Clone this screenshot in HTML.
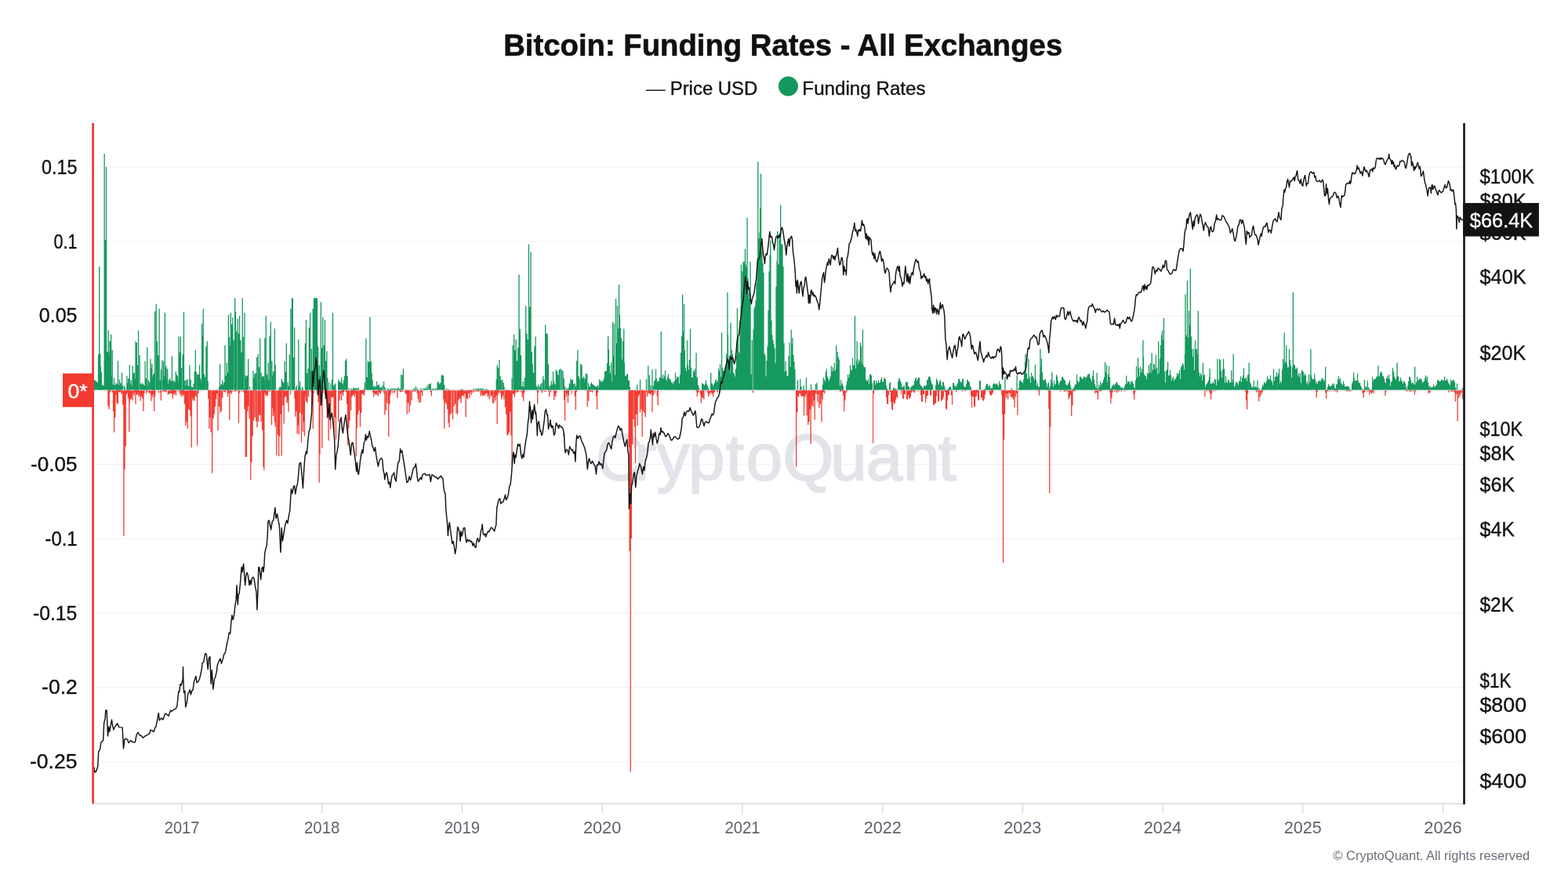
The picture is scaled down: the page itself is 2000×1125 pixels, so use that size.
<!DOCTYPE html>
<html lang="en"><head><meta charset="utf-8"><title>Bitcoin: Funding Rates - All Exchanges</title>
<style>html,body{margin:0;padding:0;background:#fff;}body{width:2000px;height:1125px;overflow:hidden;}svg{display:block;}</style></head>
<body>
<svg width="2000" height="1125" viewBox="0 0 2000 1125" font-family="'Liberation Sans', Arial, Helvetica, sans-serif">
<rect width="2000" height="1125" fill="#ffffff"/>
<g stroke="#f4f4f5" stroke-width="1.5">
<line x1="118.6" x2="1867.5" y1="213.1" y2="213.1"/>
<line x1="118.6" x2="1867.5" y1="307.9" y2="307.9"/>
<line x1="118.6" x2="1867.5" y1="402.7" y2="402.7"/>
<line x1="118.6" x2="1867.5" y1="592.3" y2="592.3"/>
<line x1="118.6" x2="1867.5" y1="687.1" y2="687.1"/>
<line x1="118.6" x2="1867.5" y1="781.9" y2="781.9"/>
<line x1="118.6" x2="1867.5" y1="876.7" y2="876.7"/>
<line x1="118.6" x2="1867.5" y1="971.5" y2="971.5"/>
</g>
<text x="760.0 809.3 837.7 878.1 925.8 951.8 998.6 1059.3 1104.8 1152.3 1196.4" y="611.6" font-size="83.5" fill="#e3e3ea" stroke="#e3e3ea" stroke-width="1.9" stroke-linejoin="round">CryptoQuant</text>
<path d="M137.3 497.5v20.5h1.30v-20.5zM138.6 497.5v24.5h1.30v-24.5zM139.8 497.5v3.3h1.10v-3.3zM143.0 497.5v2.9h1.10v-2.9zM141.6 497.5v1.8h1.00v-1.8zM143.9 497.5v26.9h1.30v-26.9zM144.9 497.5v54.1h1.30v-54.1zM146.2 497.5v34.9h1.30v-34.9zM147.0 497.5v6.1h1.60v-6.1zM148.4 497.5v16.5h1.30v-16.5zM149.7 497.5v18.1h1.30v-18.1zM150.5 497.5v2.1h1.60v-2.1zM151.5 497.5v3.1h1.60v-3.1zM152.5 497.5v2.2h1.60v-2.2zM154.2 497.5v5.3h1.30v-5.3zM155.0 497.5v3.7h1.60v-3.7zM156.1 497.5v18.9h1.30v-18.9zM157.3 497.5v186.1h1.30v-186.1zM158.3 497.5v101.3h1.30v-101.3zM159.6 497.5v71.7h1.30v-71.7zM160.9 497.5v5.3h1.30v-5.3zM161.7 497.5v3.6h1.60v-3.6zM162.8 497.5v10.1h1.30v-10.1zM164.1 497.5v53.3h1.30v-53.3zM164.7 497.5v15.7h1.30v-15.7zM165.6 497.5v12.0h1.60v-12.0zM166.6 497.5v11.1h1.60v-11.1zM167.6 497.5v5.7h1.60v-5.7zM168.5 497.5v13.3h1.30v-13.3zM169.4 497.5v3.6h1.60v-3.6zM170.5 497.5v6.9h1.30v-6.9zM171.3 497.5v3.1h1.60v-3.1zM172.4 497.5v18.1h1.30v-18.1zM173.2 497.5v6.1h1.60v-6.1zM174.2 497.5v5.6h1.60v-5.6zM175.2 497.5v3.3h1.60v-3.3zM176.2 497.5v8.5h1.30v-8.5zM177.1 497.5v6.3h1.60v-6.3zM178.5 497.5v14.1h1.30v-14.1zM179.3 497.5v7.4h1.60v-7.4zM180.3 497.5v8.6h1.60v-8.6zM181.3 497.5v11.3h1.60v-11.3zM182.3 497.5v26.9h1.30v-26.9zM183.5 497.5v4.6h1.10v-4.6zM191.3 497.5v3.9h1.10v-3.9zM186.3 497.5v5.0h1.00v-5.0zM187.3 497.5v3.0h1.00v-3.0zM189.3 497.5v3.3h1.00v-3.3zM190.3 497.5v3.9h1.00v-3.9zM192.2 497.5v14.1h1.30v-14.1zM193.1 497.5v6.3h1.60v-6.3zM194.2 497.5v9.3h1.30v-9.3zM195.0 497.5v4.9h1.60v-4.9zM196.1 497.5v26.9h1.30v-26.9zM197.2 497.5v8.1h1.10v-8.1zM203.8 497.5v3.3h1.10v-3.3zM202.0 497.5v3.9h1.00v-3.9zM204.7 497.5v13.3h1.30v-13.3zM206.7 497.5v2.2h1.00v-2.2zM208.7 497.5v2.3h1.00v-2.3zM209.7 497.5v1.7h1.00v-1.7zM210.7 497.5v2.9h1.00v-2.9zM211.7 497.5v2.0h1.00v-2.0zM213.7 497.5v6.1h1.30v-6.1zM214.5 497.5v4.5h1.60v-4.5zM215.6 497.5v5.3h1.30v-5.3zM216.4 497.5v3.2h1.60v-3.2zM217.4 497.5v4.5h1.60v-4.5zM218.4 497.5v4.4h1.60v-4.4zM219.8 497.5v10.9h1.30v-10.9zM220.6 497.5v4.0h1.60v-4.0zM221.6 497.5v5.9h1.60v-5.9zM222.6 497.5v3.0h1.60v-3.0zM223.8 497.5v6.9h1.30v-6.9zM224.9 497.5v1.1h1.10v-1.1zM228.1 497.5v1.4h1.10v-1.4zM226.7 497.5v1.5h1.00v-1.5zM229.0 497.5v5.3h1.30v-5.3zM230.6 497.5v8.5h1.30v-8.5zM231.5 497.5v4.8h1.60v-4.8zM232.5 497.5v7.6h1.60v-7.6zM233.5 497.5v5.5h1.60v-5.5zM234.9 497.5v18.1h1.30v-18.1zM236.2 497.5v45.3h1.30v-45.3zM237.3 497.5v40.5h1.30v-40.5zM238.6 497.5v49.3h1.30v-49.3zM239.8 497.5v24.5h1.30v-24.5zM241.3 497.5v26.1h1.30v-26.1zM242.5 497.5v33.3h1.30v-33.3zM243.6 497.5v73.3h1.30v-73.3zM244.4 497.5v9.8h1.60v-9.8zM245.3 497.5v13.3h1.30v-13.3zM246.2 497.5v11.5h1.60v-11.5zM247.3 497.5v14.1h1.30v-14.1zM248.1 497.5v7.2h1.60v-7.2zM249.3 497.5v8.5h1.30v-8.5zM250.9 497.5v70.9h1.30v-70.9zM252.1 497.5v4.5h1.30v-4.5zM265.2 497.5v11.2h1.10v-11.2zM266.2 497.5v49.3h1.30v-49.3zM267.0 497.5v35.1h1.60v-35.1zM268.4 497.5v54.1h1.30v-54.1zM270.0 497.5v106.1h1.30v-106.1zM271.3 497.5v36.5h1.30v-36.5zM272.6 497.5v30.9h1.30v-30.9zM273.8 497.5v21.3h1.30v-21.3zM275.1 497.5v11.7h1.30v-11.7zM276.0 497.5v4.5h1.60v-4.5zM277.4 497.5v51.7h1.30v-51.7zM279.0 497.5v21.3h1.30v-21.3zM280.2 497.5v29.3h1.30v-29.3zM281.8 497.5v26.9h1.30v-26.9zM283.1 497.5v10.1h1.30v-10.1zM284.3 497.5v1.4h1.10v-1.4zM288.9 497.5v0.8h1.10v-0.8zM285.1 497.5v1.9h1.00v-1.9zM286.1 497.5v2.4h1.00v-2.4zM287.1 497.5v3.6h1.00v-3.6zM289.8 497.5v8.5h1.30v-8.5zM290.7 497.5v4.2h1.60v-4.2zM292.2 497.5v38.1h1.30v-38.1zM293.1 497.5v2.9h1.60v-2.9zM294.6 497.5v5.3h1.30v-5.3zM295.8 497.5v2.1h1.10v-2.1zM298.6 497.5v1.7h1.00v-1.7zM299.6 497.5v1.9h1.00v-1.9zM301.6 497.5v1.5h1.00v-1.5zM303.8 497.5v42.1h1.30v-42.1zM304.9 497.5v3.7h1.30v-3.7zM310.3 497.5v3.3h1.10v-3.3zM307.8 497.5v2.2h1.00v-2.2zM311.3 497.5v24.5h1.30v-24.5zM312.6 497.5v85.3h1.30v-85.3zM313.8 497.5v85.3h1.30v-85.3zM314.7 497.5v27.2h1.60v-27.2zM315.7 497.5v20.4h1.60v-20.4zM317.4 497.5v36.5h1.30v-36.5zM319.0 497.5v114.4h1.30v-114.4zM320.2 497.5v91.7h1.30v-91.7zM321.5 497.5v58.9h1.30v-58.9zM323.0 497.5v38.9h1.30v-38.9zM324.6 497.5v34.9h1.30v-34.9zM326.2 497.5v39.7h1.30v-39.7zM327.3 497.5v47.7h1.30v-47.7zM328.9 497.5v40.5h1.30v-40.5zM329.7 497.5v32.0h1.60v-32.0zM330.7 497.5v32.1h1.60v-32.1zM332.4 497.5v40.5h1.30v-40.5zM334.0 497.5v50.9h1.30v-50.9zM335.3 497.5v98.1h1.30v-98.1zM336.2 497.5v102.1h1.30v-102.1zM337.1 497.5v3.7h1.60v-3.7zM338.1 497.5v7.0h1.60v-7.0zM339.1 497.5v6.2h1.60v-6.2zM340.6 497.5v7.7h1.30v-7.7zM342.5 497.5v2.6h1.00v-2.6zM343.5 497.5v1.6h1.00v-1.6zM345.8 497.5v44.5h1.30v-44.5zM346.7 497.5v22.7h1.60v-22.7zM347.7 497.5v33.1h1.60v-33.1zM348.7 497.5v26.9h1.60v-26.9zM349.7 497.5v40.6h1.60v-40.6zM350.6 497.5v46.9h1.30v-46.9zM352.2 497.5v82.9h1.30v-82.9zM353.8 497.5v57.3h1.30v-57.3zM355.0 497.5v84.5h1.30v-84.5zM356.1 497.5v58.9h1.30v-58.9zM357.4 497.5v30.9h1.30v-30.9zM358.6 497.5v83.7h1.30v-83.7zM360.2 497.5v19.7h1.30v-19.7zM361.5 497.5v42.9h1.30v-42.9zM362.4 497.5v9.2h1.60v-9.2zM363.4 497.5v7.9h1.60v-7.9zM364.4 497.5v7.7h1.60v-7.7zM365.4 497.5v16.5h1.30v-16.5zM366.2 497.5v14.2h1.60v-14.2zM367.3 497.5v27.7h1.30v-27.7zM375.3 497.5v11.0h1.10v-11.0zM370.2 497.5v5.9h1.00v-5.9zM376.2 497.5v34.1h1.30v-34.1zM377.1 497.5v27.3h1.60v-27.3zM378.5 497.5v55.7h1.30v-55.7zM379.3 497.5v44.9h1.60v-44.9zM380.6 497.5v56.5h1.30v-56.5zM382.0 497.5v29.3h1.30v-29.3zM383.8 497.5v66.9h1.30v-66.9zM384.6 497.5v30.8h1.60v-30.8zM385.8 497.5v53.3h1.30v-53.3zM386.7 497.5v40.7h1.60v-40.7zM387.8 497.5v58.9h1.30v-58.9zM388.6 497.5v7.0h1.60v-7.0zM389.6 497.5v14.3h1.60v-14.3zM391.3 497.5v16.5h1.30v-16.5zM392.9 497.5v8.5h1.30v-8.5zM397.7 497.5v19.0h1.10v-19.0zM396.8 497.5v2.8h1.00v-2.8zM398.6 497.5v49.3h1.30v-49.3zM399.8 497.5v4.2h1.10v-4.2zM403.6 497.5v4.8h1.00v-4.8zM405.4 497.5v14.9h1.30v-14.9zM406.5 497.5v118.1h1.30v-118.1zM407.3 497.5v82.1h1.30v-82.1zM408.6 497.5v19.7h1.30v-19.7zM410.2 497.5v74.1h1.30v-74.1zM415.6 497.5v6.2h1.10v-6.2zM412.1 497.5v3.5h1.00v-3.5zM414.1 497.5v5.0h1.00v-5.0zM416.6 497.5v35.7h1.30v-35.7zM417.4 497.5v31.0h1.60v-31.0zM418.5 497.5v64.5h1.30v-64.5zM419.3 497.5v30.6h1.60v-30.6zM421.0 497.5v50.1h1.30v-50.1zM421.9 497.5v8.7h1.60v-8.7zM423.0 497.5v10.1h1.30v-10.1zM423.8 497.5v8.8h1.60v-8.8zM425.4 497.5v53.3h1.30v-53.3zM426.2 497.5v34.8h1.60v-34.8zM427.8 497.5v62.9h1.30v-62.9zM431.0 497.5v40.5h1.30v-40.5zM432.6 497.5v13.3h1.30v-13.3zM433.4 497.5v4.8h1.60v-4.8zM435.0 497.5v13.3h1.30v-13.3zM435.8 497.5v3.1h1.60v-3.1zM437.0 497.5v6.9h1.30v-6.9zM438.2 497.5v2.6h1.10v-2.6zM442.0 497.5v18.1h1.10v-18.1zM441.0 497.5v2.5h1.00v-2.5zM443.0 497.5v70.9h1.30v-70.9zM444.1 497.5v48.5h1.30v-48.5zM445.4 497.5v38.9h1.30v-38.9zM447.0 497.5v26.1h1.30v-26.1zM448.2 497.5v8.5h1.30v-8.5zM449.1 497.5v6.8h1.60v-6.8zM450.1 497.5v5.7h1.60v-5.7zM451.8 497.5v8.5h1.30v-8.5zM452.6 497.5v4.3h1.60v-4.3zM453.7 497.5v84.5h1.30v-84.5zM454.6 497.5v48.5h1.30v-48.5zM455.9 497.5v30.9h1.30v-30.9zM457.4 497.5v26.1h1.30v-26.1zM458.8 497.5v46.9h1.30v-46.9zM460.1 497.5v29.3h1.30v-29.3zM460.9 497.5v4.4h1.60v-4.4zM461.9 497.5v5.4h1.60v-5.4zM462.9 497.5v4.1h1.60v-4.1zM463.8 497.5v6.9h1.30v-6.9zM464.9 497.5v1.8h1.10v-1.8zM475.1 497.5v2.9h1.10v-2.9zM476.1 497.5v8.5h1.30v-8.5zM476.9 497.5v4.0h1.60v-4.0zM477.9 497.5v5.4h1.60v-5.4zM478.9 497.5v5.2h1.60v-5.2zM480.2 497.5v6.1h1.30v-6.1zM481.8 497.5v7.7h1.30v-7.7zM482.7 497.5v2.2h1.60v-2.2zM483.7 497.5v4.0h1.60v-4.0zM484.7 497.5v4.5h1.30v-4.5zM489.2 497.5v4.0h1.10v-4.0zM486.7 497.5v1.6h1.00v-1.6zM487.7 497.5v1.6h1.00v-1.6zM490.2 497.5v31.7h1.30v-31.7zM491.8 497.5v26.1h1.30v-26.1zM493.4 497.5v16.5h1.30v-16.5zM495.0 497.5v59.7h1.30v-59.7zM496.2 497.5v18.1h1.30v-18.1zM497.4 497.5v6.7h1.10v-6.7zM498.2 497.5v3.4h1.00v-3.4zM500.2 497.5v3.9h1.00v-3.9zM502.2 497.5v4.1h1.00v-4.1zM503.2 497.5v2.8h1.00v-2.8zM506.2 497.5v10.1h1.30v-10.1zM515.6 497.5v1.3h1.10v-1.3zM509.1 497.5v1.8h1.00v-1.8zM510.1 497.5v2.7h1.00v-2.7zM511.1 497.5v2.4h1.00v-2.4zM512.1 497.5v1.5h1.00v-1.5zM513.1 497.5v2.5h1.00v-2.5zM516.6 497.5v5.3h1.30v-5.3zM517.4 497.5v4.8h1.60v-4.8zM518.6 497.5v30.9h1.30v-30.9zM519.9 497.5v16.5h1.30v-16.5zM521.2 497.5v28.5h1.30v-28.5zM522.8 497.5v19.7h1.30v-19.7zM524.4 497.5v13.3h1.30v-13.3zM525.2 497.5v1.9h1.60v-1.9zM526.3 497.5v2.1h1.30v-2.1zM527.5 497.5v0.4h1.10v-0.4zM531.6 497.5v4.3h1.10v-4.3zM528.3 497.5v1.6h1.00v-1.6zM529.3 497.5v2.4h1.00v-2.4zM532.6 497.5v11.7h1.30v-11.7zM534.1 497.5v16.5h1.30v-16.5zM535.8 497.5v15.7h1.30v-15.7zM536.6 497.5v3.3h1.60v-3.3zM538.1 497.5v7.7h1.30v-7.7zM548.7 497.5v2.6h1.10v-2.6zM549.7 497.5v7.7h1.30v-7.7zM550.8 497.5v0.8h1.10v-0.8zM565.2 497.5v11.7h1.10v-11.7zM566.1 497.5v49.3h1.30v-49.3zM567.0 497.5v16.0h1.60v-16.0zM568.6 497.5v18.1h1.30v-18.1zM570.1 497.5v24.5h1.30v-24.5zM571.4 497.5v42.1h1.30v-42.1zM572.4 497.5v47.7h1.30v-47.7zM573.7 497.5v30.9h1.30v-30.9zM575.3 497.5v29.3h1.30v-29.3zM576.9 497.5v37.3h1.30v-37.3zM578.5 497.5v21.3h1.30v-21.3zM580.1 497.5v18.1h1.30v-18.1zM581.4 497.5v30.1h1.30v-30.1zM583.0 497.5v30.9h1.30v-30.9zM584.2 497.5v13.3h1.30v-13.3zM585.1 497.5v10.7h1.60v-10.7zM586.1 497.5v11.1h1.60v-11.1zM587.4 497.5v16.5h1.30v-16.5zM588.7 497.5v7.7h1.30v-7.7zM589.6 497.5v6.5h1.60v-6.5zM591.0 497.5v8.5h1.30v-8.5zM591.8 497.5v4.6h1.60v-4.6zM593.5 497.5v34.4h1.30v-34.4zM594.4 497.5v10.3h1.60v-10.3zM595.8 497.5v11.7h1.30v-11.7zM596.6 497.5v4.3h1.60v-4.3zM598.3 497.5v10.1h1.30v-10.1zM599.2 497.5v3.0h1.60v-3.0zM600.6 497.5v6.1h1.30v-6.1zM601.4 497.5v1.6h1.60v-1.6zM603.0 497.5v3.7h1.30v-3.7zM603.8 497.5v1.0h1.60v-1.0zM605.4 497.5v2.1h1.30v-2.1zM606.5 497.5v0.4h1.10v-0.4zM607.3 497.5v2.0h1.00v-2.0zM608.3 497.5v1.8h1.00v-1.8zM609.3 497.5v1.7h1.00v-1.7zM610.3 497.5v2.2h1.00v-2.2zM612.6 497.5v7.7h1.30v-7.7zM613.4 497.5v3.5h1.60v-3.5zM614.4 497.5v6.8h1.60v-6.8zM615.8 497.5v7.7h1.30v-7.7zM616.6 497.5v5.6h1.60v-5.6zM618.1 497.5v6.9h1.30v-6.9zM619.0 497.5v4.3h1.60v-4.3zM620.0 497.5v3.9h1.60v-3.9zM621.4 497.5v8.5h1.30v-8.5zM622.2 497.5v6.3h1.60v-6.3zM623.3 497.5v11.7h1.30v-11.7zM625.4 497.5v8.5h1.30v-8.5zM626.2 497.5v7.0h1.60v-7.0zM627.8 497.5v17.3h1.30v-17.3zM629.4 497.5v16.5h1.30v-16.5zM630.2 497.5v9.5h1.60v-9.5zM631.3 497.5v13.3h1.30v-13.3zM632.1 497.5v7.3h1.60v-7.3zM633.5 497.5v43.4h1.30v-43.4zM634.7 497.5v5.6h1.10v-5.6zM638.0 497.5v4.1h1.10v-4.1zM635.5 497.5v2.0h1.00v-2.0zM636.5 497.5v4.1h1.00v-4.1zM639.0 497.5v11.7h1.30v-11.7zM639.8 497.5v8.6h1.60v-8.6zM640.8 497.5v5.7h1.60v-5.7zM642.1 497.5v11.7h1.30v-11.7zM643.8 497.5v21.3h1.30v-21.3zM645.0 497.5v30.9h1.30v-30.9zM646.3 497.5v58.1h1.30v-58.1zM647.6 497.5v56.5h1.30v-56.5zM648.9 497.5v53.3h1.30v-53.3zM650.1 497.5v27.7h1.30v-27.7zM651.4 497.5v58.1h1.30v-58.1zM652.4 497.5v94.9h1.30v-94.9zM653.2 497.5v5.2h1.60v-5.2zM654.2 497.5v5.1h1.60v-5.1zM655.8 497.5v8.5h1.30v-8.5zM656.9 497.5v3.7h1.10v-3.7zM658.7 497.5v3.8h1.00v-3.8zM659.7 497.5v2.3h1.00v-2.3zM660.7 497.5v2.4h1.00v-2.4zM663.7 497.5v2.7h1.00v-2.7zM665.4 497.5v9.3h1.30v-9.3zM666.2 497.5v4.6h1.60v-4.6zM667.1 497.5v14.1h1.30v-14.1zM668.3 497.5v3.2h1.10v-3.2zM684.1 497.5v1.6h1.10v-1.6zM685.0 497.5v18.1h1.30v-18.1zM686.2 497.5v3.0h1.10v-3.0zM689.8 497.5v1.0h1.10v-1.0zM690.8 497.5v3.7h1.30v-3.7zM699.1 497.5v1.7h1.10v-1.7zM693.7 497.5v2.4h1.00v-2.4zM695.7 497.5v2.6h1.00v-2.6zM700.1 497.5v8.5h1.30v-8.5zM702.0 497.5v2.7h1.00v-2.7zM706.1 497.5v12.5h1.30v-12.5zM707.0 497.5v7.0h1.60v-7.0zM708.1 497.5v8.5h1.30v-8.5zM709.2 497.5v3.5h1.10v-3.5zM719.0 497.5v13.1h1.10v-13.1zM719.9 497.5v38.9h1.30v-38.9zM720.8 497.5v3.1h1.60v-3.1zM721.8 497.5v8.5h1.30v-8.5zM722.7 497.5v4.7h1.60v-4.7zM723.8 497.5v16.5h1.30v-16.5zM724.9 497.5v6.4h1.10v-6.4zM732.7 497.5v7.9h1.10v-7.9zM728.7 497.5v4.8h1.00v-4.8zM733.7 497.5v25.3h1.30v-25.3zM734.8 497.5v2.6h1.10v-2.6zM748.6 497.5v21.3h1.30v-21.3zM750.1 497.5v14.1h1.30v-14.1zM751.0 497.5v1.1h1.60v-1.1zM752.0 497.5v2.2h1.60v-2.2zM753.0 497.5v2.2h1.60v-2.2zM755.0 497.5v2.9h1.30v-2.9zM756.1 497.5v0.6h1.10v-0.6zM759.9 497.5v8.2h1.10v-8.2zM760.9 497.5v24.5h1.30v-24.5zM762.0 497.5v3.3h1.10v-3.3zM801.5 497.5v73.0h1.10v-73.0zM802.5 497.5v205.6h1.30v-205.6zM803.6 497.5v486.9h1.30v-486.9zM804.7 497.5v189.3h1.30v-189.3zM806.1 497.5v69.3h1.30v-69.3zM807.3 497.5v37.3h1.30v-37.3zM808.9 497.5v46.9h1.30v-46.9zM809.8 497.5v93.3h1.30v-93.3zM811.1 497.5v30.9h1.30v-30.9zM812.4 497.5v45.3h1.30v-45.3zM813.4 497.5v8.5h1.30v-8.5zM814.2 497.5v5.7h1.60v-5.7zM815.8 497.5v28.5h1.30v-28.5zM817.4 497.5v24.5h1.30v-24.5zM818.5 497.5v59.7h1.30v-59.7zM819.8 497.5v26.9h1.30v-26.9zM821.4 497.5v29.3h1.30v-29.3zM822.6 497.5v34.4h1.30v-34.4zM823.8 497.5v2.1h1.30v-2.1zM824.9 497.5v8.5h1.30v-8.5zM825.7 497.5v2.3h1.60v-2.3zM826.7 497.5v4.5h1.60v-4.5zM827.7 497.5v4.5h1.60v-4.5zM829.0 497.5v6.1h1.30v-6.1zM829.9 497.5v3.9h1.60v-3.9zM831.3 497.5v28.0h1.30v-28.0zM832.4 497.5v7.1h1.10v-7.1zM837.7 497.5v8.0h1.10v-8.0zM833.2 497.5v6.2h1.00v-6.2zM835.2 497.5v3.7h1.00v-3.7zM838.6 497.5v19.4h1.30v-19.4zM887.6 497.5v1.5h1.10v-1.5zM888.6 497.5v8.2h1.30v-8.2zM889.7 497.5v3.5h1.10v-3.5zM892.7 497.5v5.0h1.10v-5.0zM890.5 497.5v2.7h1.00v-2.7zM893.7 497.5v16.8h1.30v-16.8zM894.5 497.5v9.5h1.60v-9.5zM895.5 497.5v10.0h1.60v-10.0zM897.2 497.5v11.7h1.30v-11.7zM902.0 497.5v3.5h1.10v-3.5zM900.1 497.5v1.5h1.00v-1.5zM903.0 497.5v8.5h1.30v-8.5zM904.6 497.5v6.1h1.30v-6.1zM905.4 497.5v3.2h1.60v-3.2zM906.4 497.5v3.3h1.60v-3.3zM907.4 497.5v5.0h1.60v-5.0zM909.0 497.5v8.8h1.30v-8.8zM910.2 497.5v3.1h1.10v-3.1zM911.0 497.5v2.9h1.00v-2.9zM914.0 497.5v2.1h1.00v-2.1zM915.0 497.5v3.0h1.00v-3.0zM917.0 497.5v4.5h1.30v-4.5zM918.2 497.5v1.0h1.10v-1.0zM958.8 497.5v0.6h1.10v-0.6zM959.8 497.5v3.4h1.30v-3.4zM960.9 497.5v0.4h1.10v-0.4zM1015.0 497.5v98.1h1.30v-98.1zM1016.2 497.5v28.5h1.30v-28.5zM1017.1 497.5v7.5h1.60v-7.5zM1018.1 497.5v8.5h1.30v-8.5zM1019.0 497.5v4.3h1.60v-4.3zM1020.0 497.5v3.9h1.60v-3.9zM1021.0 497.5v7.6h1.60v-7.6zM1022.0 497.5v6.9h1.60v-6.9zM1023.0 497.5v8.5h1.30v-8.5zM1023.8 497.5v7.4h1.60v-7.4zM1024.9 497.5v32.5h1.30v-32.5zM1026.1 497.5v8.5h1.30v-8.5zM1027.0 497.5v5.6h1.60v-5.6zM1028.5 497.5v32.5h1.30v-32.5zM1030.0 497.5v44.5h1.30v-44.5zM1031.3 497.5v40.5h1.30v-40.5zM1032.5 497.5v24.5h1.30v-24.5zM1033.5 497.5v68.5h1.30v-68.5zM1034.9 497.5v19.7h1.30v-19.7zM1035.8 497.5v7.4h1.60v-7.4zM1036.5 497.5v21.3h1.30v-21.3zM1037.4 497.5v12.9h1.60v-12.9zM1038.6 497.5v38.1h1.30v-38.1zM1039.5 497.5v3.8h1.60v-3.8zM1040.5 497.5v5.3h1.30v-5.3zM1042.1 497.5v14.9h1.30v-14.9zM1043.0 497.5v5.6h1.60v-5.6zM1044.1 497.5v22.9h1.30v-22.9zM1045.7 497.5v18.1h1.30v-18.1zM1046.5 497.5v7.6h1.60v-7.6zM1047.3 497.5v40.5h1.30v-40.5zM1048.5 497.5v11.7h1.30v-11.7zM1049.4 497.5v2.4h1.60v-2.4zM1051.1 497.5v4.5h1.30v-4.5zM1070.9 497.5v2.1h1.30v-2.1zM1071.8 497.5v1.6h1.60v-1.6zM1073.8 497.5v1.5h1.60v-1.5zM1074.9 497.5v6.9h1.30v-6.9zM1076.1 497.5v26.9h1.30v-26.9zM1077.3 497.5v13.3h1.30v-13.3zM1078.9 497.5v3.7h1.30v-3.7zM1080.1 497.5v1.1h1.10v-1.1zM1277.2 497.5v6.6h1.10v-6.6zM1278.1 497.5v30.9h1.30v-30.9zM1278.9 497.5v220.5h1.30v-220.5zM1279.9 497.5v63.2h1.30v-63.2zM1280.9 497.5v30.9h1.30v-30.9zM1281.7 497.5v4.3h1.60v-4.3zM1282.7 497.5v9.5h1.60v-9.5zM1283.7 497.5v4.4h1.60v-4.4zM1285.0 497.5v11.7h1.30v-11.7zM1285.9 497.5v3.3h1.60v-3.3zM1286.9 497.5v4.2h1.60v-4.2zM1288.5 497.5v8.5h1.30v-8.5zM1290.1 497.5v10.1h1.30v-10.1zM1291.0 497.5v8.7h1.60v-8.7zM1292.1 497.5v11.7h1.30v-11.7zM1293.3 497.5v22.1h1.30v-22.1zM1294.9 497.5v8.5h1.30v-8.5zM1295.8 497.5v4.3h1.60v-4.3zM1297.3 497.5v31.7h1.30v-31.7zM1323.9 497.5v1.2h1.10v-1.2zM1324.9 497.5v6.9h1.30v-6.9zM1337.2 497.5v23.9h1.10v-23.9zM1338.1 497.5v131.4h1.30v-131.4zM1339.3 497.5v47.2h1.10v-47.2zM1351.8 497.5v1.8h1.30v-1.8zM1352.9 497.5v0.8h1.10v-0.8zM1361.5 497.5v1.9h1.10v-1.9zM1356.7 497.5v1.7h1.00v-1.7zM1357.7 497.5v1.9h1.00v-1.9zM1359.7 497.5v2.2h1.00v-2.2zM1362.5 497.5v11.7h1.30v-11.7zM1363.3 497.5v9.2h1.60v-9.2zM1364.3 497.5v6.3h1.60v-6.3zM1365.3 497.5v6.5h1.60v-6.5zM1366.1 497.5v33.3h1.30v-33.3zM1367.3 497.5v19.7h1.30v-19.7zM1368.1 497.5v0.7h1.60v-0.7zM1369.1 497.5v1.4h1.60v-1.4zM1370.1 497.5v1.8h1.30v-1.8zM1396.1 497.5v4.5h1.30v-4.5zM1396.9 497.5v1.7h1.60v-1.7zM1397.9 497.5v3.0h1.60v-3.0zM1398.9 497.5v4.1h1.60v-4.1zM1399.8 497.5v12.0h1.30v-12.0zM1400.6 497.5v1.6h1.60v-1.6zM1401.6 497.5v0.7h1.60v-0.7zM1402.6 497.5v1.1h1.60v-1.1zM1403.8 497.5v1.8h1.30v-1.8zM1415.3 497.5v2.9h1.10v-2.9zM1416.2 497.5v17.3h1.30v-17.3zM1417.3 497.5v10.1h1.30v-10.1zM1418.5 497.5v3.1h1.10v-3.1zM1422.8 497.5v1.2h1.10v-1.2zM1421.3 497.5v2.5h1.00v-2.5zM1423.8 497.5v3.4h1.30v-3.4zM1424.9 497.5v1.0h1.10v-1.0zM1433.2 497.5v0.6h1.10v-0.6zM1425.7 497.5v1.7h1.00v-1.7zM1426.7 497.5v1.6h1.00v-1.6zM1429.7 497.5v1.9h1.00v-1.9zM1434.1 497.5v1.8h1.30v-1.8zM1435.3 497.5v0.7h1.10v-0.7zM1445.2 497.5v5.4h1.10v-5.4zM1446.1 497.5v12.0h1.30v-12.0zM1447.3 497.5v3.1h1.10v-3.1zM1536.2 497.5v8.5h1.30v-8.5zM1537.1 497.5v1.1h1.60v-1.1zM1538.1 497.5v0.7h1.60v-0.7zM1538.9 497.5v1.3h1.30v-1.3zM1539.8 497.5v0.6h1.60v-0.6zM1541.8 497.5v1.1h1.60v-1.1zM1542.6 497.5v3.7h1.30v-3.7zM1543.8 497.5v12.0h1.30v-12.0zM1544.9 497.5v4.8h1.10v-4.8zM1548.9 497.5v0.2h1.10v-0.2zM1547.7 497.5v1.9h1.00v-1.9zM1549.8 497.5v1.0h1.30v-1.0zM1551.0 497.5v0.2h1.10v-0.2zM1588.1 497.5v1.8h1.10v-1.8zM1589.0 497.5v13.3h1.30v-13.3zM1590.0 497.5v24.5h1.30v-24.5zM1591.1 497.5v4.3h1.10v-4.3zM1601.2 497.5v0.9h1.10v-0.9zM1602.1 497.5v2.9h1.30v-2.9zM1603.0 497.5v1.0h1.60v-1.0zM1604.0 497.5v2.1h1.60v-2.1zM1605.0 497.5v14.6h1.30v-14.6zM1606.6 497.5v8.5h1.30v-8.5zM1607.5 497.5v3.2h1.60v-3.2zM1608.5 497.5v6.1h1.30v-6.1zM1609.7 497.5v2.3h1.10v-2.3zM1677.7 497.5v1.0h1.10v-1.0zM1678.6 497.5v9.8h1.30v-9.8zM1679.8 497.5v2.2h1.10v-2.2zM1690.2 497.5v3.4h1.10v-3.4zM1691.1 497.5v10.9h1.30v-10.9zM1692.3 497.5v1.5h1.10v-1.5zM1696.4 497.5v0.2h1.10v-0.2zM1693.1 497.5v1.7h1.00v-1.7zM1695.1 497.5v1.9h1.00v-1.9zM1697.3 497.5v1.0h1.30v-1.0zM1698.5 497.5v0.2h1.10v-0.2zM1700.3 497.5v1.6h1.00v-1.6zM1702.6 497.5v1.8h1.30v-1.8zM1703.5 497.5v0.8h1.60v-0.8zM1704.9 497.5v2.9h1.30v-2.9zM1717.4 497.5v1.8h1.30v-1.8zM1718.3 497.5v1.5h1.60v-1.5zM1719.3 497.5v1.4h1.60v-1.4zM1720.3 497.5v1.5h1.60v-1.5zM1721.3 497.5v0.8h1.60v-0.8zM1722.2 497.5v1.8h1.30v-1.8zM1723.4 497.5v0.5h1.10v-0.5zM1737.6 497.5v4.1h1.10v-4.1zM1738.5 497.5v9.8h1.30v-9.8zM1739.7 497.5v3.0h1.10v-3.0zM1745.3 497.5v1.6h1.10v-1.6zM1740.5 497.5v2.0h1.00v-2.0zM1743.5 497.5v2.4h1.00v-2.4zM1746.2 497.5v6.1h1.30v-6.1zM1747.1 497.5v2.1h1.60v-2.1zM1748.5 497.5v4.5h1.30v-4.5zM1749.3 497.5v3.6h1.60v-3.6zM1751.3 497.5v4.0h1.30v-4.0zM1752.5 497.5v0.4h1.10v-0.4zM1766.2 497.5v7.2h1.30v-7.2zM1767.4 497.5v3.0h1.10v-3.0zM1792.8 497.5v0.7h1.10v-0.7zM1793.8 497.5v1.8h1.30v-1.8zM1794.9 497.5v0.7h1.10v-0.7zM1802.7 497.5v1.4h1.10v-1.4zM1797.7 497.5v1.7h1.00v-1.7zM1798.7 497.5v2.0h1.00v-2.0zM1799.7 497.5v1.6h1.00v-1.6zM1800.7 497.5v2.1h1.00v-2.1zM1803.7 497.5v6.1h1.30v-6.1zM1804.8 497.5v1.8h1.10v-1.8zM1821.4 497.5v4.5h1.30v-4.5zM1822.3 497.5v2.8h1.60v-2.8zM1823.0 497.5v3.4h1.30v-3.4zM1824.2 497.5v1.0h1.10v-1.0zM1846.4 497.5v0.9h1.10v-0.9zM1847.3 497.5v2.9h1.30v-2.9zM1848.5 497.5v0.7h1.10v-0.7zM1854.9 497.5v3.5h1.10v-3.5zM1850.3 497.5v2.0h1.00v-2.0zM1851.3 497.5v2.2h1.00v-2.2zM1853.3 497.5v2.4h1.00v-2.4zM1855.8 497.5v14.6h1.30v-14.6zM1857.3 497.5v5.3h1.30v-5.3zM1858.5 497.5v39.7h1.30v-39.7zM1860.1 497.5v10.1h1.30v-10.1zM1861.0 497.5v4.2h1.60v-4.2zM1861.8 497.5v6.9h1.30v-6.9zM1863.3 497.5v3.7h1.30v-3.7zM1864.9 497.5v11.7h1.05v-11.7zM1113.0 497.5v67.9h1.10v-67.9zM1114.0 497.5v4.7h1.10v-4.7zM1130.0 497.5v9.2h1.10v-9.2zM1131.0 497.5v17.4h1.10v-17.4zM1132.0 497.5v18.0h1.10v-18.0zM1133.0 497.5v6.5h1.10v-6.5zM1135.0 497.5v2.6h1.10v-2.6zM1136.0 497.5v15.1h1.10v-15.1zM1137.0 497.5v24.6h1.10v-24.6zM1138.0 497.5v25.7h1.10v-25.7zM1139.0 497.5v15.3h1.10v-15.3zM1140.0 497.5v18.3h1.10v-18.3zM1141.0 497.5v16.6h1.10v-16.6zM1142.0 497.5v12.5h1.10v-12.5zM1143.0 497.5v8.6h1.10v-8.6zM1144.0 497.5v10.8h1.10v-10.8zM1149.0 497.5v5.7h1.10v-5.7zM1151.0 497.5v11.3h1.10v-11.3zM1152.0 497.5v10.9h1.10v-10.9zM1153.0 497.5v5.3h1.10v-5.3zM1154.0 497.5v5.8h1.10v-5.8zM1156.0 497.5v11.9h1.10v-11.9zM1157.0 497.5v12.1h1.10v-12.1zM1158.0 497.5v6.4h1.10v-6.4zM1159.0 497.5v10.2h1.10v-10.2zM1160.0 497.5v11.1h1.10v-11.1zM1161.0 497.5v8.7h1.10v-8.7zM1162.0 497.5v3.3h1.10v-3.3zM1163.0 497.5v1.5h1.10v-1.5zM1164.0 497.5v1.3h1.10v-1.3zM1165.0 497.5v2.9h1.10v-2.9zM1166.0 497.5v3.5h1.10v-3.5zM1167.0 497.5v1.1h1.10v-1.1zM1170.0 497.5v1.7h1.10v-1.7zM1171.0 497.5v0.7h1.10v-0.7zM1174.0 497.5v6.6h1.10v-6.6zM1175.0 497.5v14.6h1.10v-14.6zM1176.0 497.5v15.1h1.10v-15.1zM1177.0 497.5v5.3h1.10v-5.3zM1178.0 497.5v5.6h1.10v-5.6zM1180.0 497.5v16.3h1.10v-16.3zM1181.0 497.5v11.4h1.10v-11.4zM1182.0 497.5v6.9h1.10v-6.9zM1183.0 497.5v7.2h1.10v-7.2zM1186.0 497.5v7.0h1.10v-7.0zM1187.0 497.5v7.0h1.10v-7.0zM1190.0 497.5v19.0h1.10v-19.0zM1191.0 497.5v19.1h1.10v-19.1zM1192.0 497.5v17.1h1.10v-17.1zM1193.0 497.5v17.0h1.10v-17.0zM1194.0 497.5v8.1h1.10v-8.1zM1195.0 497.5v1.4h1.10v-1.4zM1196.0 497.5v14.7h1.10v-14.7zM1197.0 497.5v14.1h1.10v-14.1zM1198.0 497.5v1.1h1.10v-1.1zM1200.0 497.5v14.1h1.10v-14.1zM1201.0 497.5v12.9h1.10v-12.9zM1202.0 497.5v11.4h1.10v-11.4zM1203.0 497.5v8.8h1.10v-8.8zM1204.0 497.5v1.1h1.10v-1.1zM1205.0 497.5v2.4h1.10v-2.4zM1206.0 497.5v23.6h1.10v-23.6zM1207.0 497.5v25.2h1.10v-25.2zM1208.0 497.5v13.2h1.10v-13.2zM1209.0 497.5v6.5h1.10v-6.5zM1210.0 497.5v6.2h1.10v-6.2zM1213.0 497.5v6.7h1.10v-6.7zM1214.0 497.5v18.8h1.10v-18.8zM1219.0 497.5v2.5h1.10v-2.5zM1227.0 497.5v2.0h1.10v-2.0zM1228.0 497.5v1.1h1.10v-1.1zM1231.0 497.5v1.2h1.10v-1.2zM1232.0 497.5v0.3h1.10v-0.3zM1236.0 497.5v0.7h1.10v-0.7zM1238.0 497.5v7.2h1.10v-7.2zM1239.0 497.5v22.4h1.10v-22.4zM1240.0 497.5v8.1h1.10v-8.1zM1241.0 497.5v9.0h1.10v-9.0zM1242.0 497.5v21.6h1.10v-21.6zM1243.0 497.5v21.0h1.10v-21.0zM1244.0 497.5v8.3h1.10v-8.3zM1245.0 497.5v8.0h1.10v-8.0zM1246.0 497.5v3.4h1.10v-3.4zM1247.0 497.5v12.7h1.10v-12.7zM1248.0 497.5v13.2h1.10v-13.2zM1251.0 497.5v10.0h1.10v-10.0zM1252.0 497.5v9.6h1.10v-9.6zM1253.0 497.5v13.2h1.10v-13.2zM1254.0 497.5v13.9h1.10v-13.9zM1255.0 497.5v11.7h1.10v-11.7zM1256.0 497.5v5.7h1.10v-5.7zM1260.0 497.5v1.5h1.10v-1.5zM1262.0 497.5v5.2h1.10v-5.2zM1263.0 497.5v6.8h1.10v-6.8zM1264.0 497.5v6.9h1.10v-6.9zM1265.0 497.5v5.2h1.10v-5.2zM1266.0 497.5v3.3h1.10v-3.3z" fill="#f23b33"/>
<path d="M126.1 497.5v-157.3h1.30v157.3zM127.3 497.5v-46.5h1.10v46.5zM136.6 497.5v-11.9h1.10v11.9zM137.5 497.5v-76.5h1.30v76.5zM138.4 497.5v-44.0h1.60v44.0zM139.4 497.5v-62.6h1.60v62.6zM141.0 497.5v-70.9h1.30v70.9zM142.6 497.5v-50.9h1.30v50.9zM143.5 497.5v-6.8h1.60v6.8zM144.9 497.5v-15.7h1.30v15.7zM145.7 497.5v-6.6h1.60v6.6zM147.4 497.5v-9.3h1.30v9.3zM148.3 497.5v-7.4h1.60v7.4zM149.8 497.5v-37.3h1.30v37.3zM150.7 497.5v-6.6h1.60v6.6zM151.8 497.5v-13.3h1.30v13.3zM152.6 497.5v-9.5h1.60v9.5zM153.6 497.5v-7.3h1.60v7.3zM154.9 497.5v-22.1h1.30v22.1zM156.1 497.5v-5.4h1.10v5.4zM157.9 497.5v-5.5h1.00v5.5zM158.9 497.5v-3.9h1.00v3.9zM161.2 497.5v-18.1h1.30v18.1zM162.0 497.5v-8.8h1.60v8.8zM163.0 497.5v-14.4h1.60v14.4zM164.7 497.5v-32.0h1.30v32.0zM165.6 497.5v-8.3h1.60v8.3zM166.6 497.5v-12.5h1.30v12.5zM167.5 497.5v-5.4h1.60v5.4zM168.5 497.5v-30.9h1.30v30.9zM169.4 497.5v-21.5h1.60v21.5zM170.4 497.5v-22.1h1.60v22.1zM171.4 497.5v-13.9h1.60v13.9zM172.4 497.5v-62.1h1.30v62.1zM173.7 497.5v-60.5h1.30v60.5zM174.5 497.5v-31.5h1.60v31.5zM175.9 497.5v-76.0h1.30v76.0zM177.5 497.5v-44.5h1.30v44.5zM178.4 497.5v-8.0h1.60v8.0zM179.4 497.5v-7.0h1.60v7.0zM180.9 497.5v-9.3h1.30v9.3zM181.7 497.5v-7.7h1.60v7.7zM182.7 497.5v-5.7h1.60v5.7zM183.7 497.5v-5.6h1.60v5.6zM184.5 497.5v-36.8h1.30v36.8zM185.4 497.5v-15.1h1.60v15.1zM187.1 497.5v-54.4h1.30v54.4zM188.0 497.5v-4.6h1.60v4.6zM188.7 497.5v-12.5h1.30v12.5zM189.6 497.5v-9.7h1.60v9.7zM191.3 497.5v-39.7h1.30v39.7zM192.1 497.5v-27.7h1.60v27.7zM193.2 497.5v-33.3h1.30v33.3zM194.0 497.5v-16.7h1.60v16.7zM195.0 497.5v-19.9h1.60v19.9zM196.0 497.5v-21.6h1.60v21.6zM197.0 497.5v-100.5h1.30v100.5zM198.6 497.5v-109.8h1.30v109.8zM199.9 497.5v-62.1h1.30v62.1zM200.8 497.5v-44.4h1.60v44.4zM202.5 497.5v-103.7h1.30v103.7zM203.3 497.5v-12.4h1.60v12.4zM204.7 497.5v-26.1h1.30v26.1zM206.3 497.5v-38.4h1.30v38.4zM207.2 497.5v-13.1h1.60v13.1zM207.9 497.5v-36.5h1.30v36.5zM208.8 497.5v-17.7h1.60v17.7zM209.7 497.5v-98.6h1.30v98.6zM210.5 497.5v-27.4h1.60v27.4zM211.4 497.5v-30.9h1.30v30.9zM212.3 497.5v-14.4h1.60v14.4zM213.0 497.5v-26.9h1.30v26.9zM213.9 497.5v-8.0h1.60v8.0zM214.9 497.5v-12.9h1.60v12.9zM216.5 497.5v-14.9h1.30v14.9zM217.4 497.5v-11.1h1.60v11.1zM218.8 497.5v-43.2h1.30v43.2zM219.6 497.5v-11.3h1.60v11.3zM221.3 497.5v-12.5h1.30v12.5zM222.2 497.5v-10.3h1.60v10.3zM223.6 497.5v-23.4h1.30v23.4zM224.4 497.5v-19.6h1.60v19.6zM225.4 497.5v-17.8h1.60v17.8zM226.4 497.5v-12.3h1.60v12.3zM227.4 497.5v-68.2h1.30v68.2zM228.3 497.5v-48.0h1.60v48.0zM229.7 497.5v-68.2h1.30v68.2zM230.9 497.5v-28.5h1.30v28.5zM232.5 497.5v-45.8h1.30v45.8zM233.8 497.5v-99.7h1.30v99.7zM234.7 497.5v-12.2h1.60v12.2zM235.7 497.5v-5.1h1.60v5.1zM236.7 497.5v-12.4h1.60v12.4zM237.7 497.5v-6.1h1.60v6.1zM238.6 497.5v-14.1h1.30v14.1zM239.5 497.5v-5.3h1.60v5.3zM241.2 497.5v-32.0h1.30v32.0zM242.5 497.5v-13.3h1.30v13.3zM243.6 497.5v-4.2h1.10v4.2zM246.6 497.5v-8.3h1.10v8.3zM244.4 497.5v-3.5h1.00v3.5zM245.4 497.5v-4.3h1.00v4.3zM247.6 497.5v-23.7h1.30v23.7zM248.7 497.5v-50.9h1.30v50.9zM250.2 497.5v-22.9h1.30v22.9zM251.0 497.5v-19.6h1.60v19.6zM252.0 497.5v-19.3h1.60v19.3zM253.0 497.5v-20.3h1.60v20.3zM254.0 497.5v-32.0h1.30v32.0zM254.8 497.5v-15.0h1.60v15.0zM255.8 497.5v-11.8h1.60v11.8zM256.9 497.5v-84.8h1.30v84.8zM257.7 497.5v-68.9h1.60v68.9zM258.6 497.5v-103.4h1.30v103.4zM259.8 497.5v-20.5h1.30v20.5zM260.6 497.5v-16.8h1.60v16.8zM262.3 497.5v-55.7h1.30v55.7zM263.6 497.5v-62.4h1.30v62.4zM264.7 497.5v-11.6h1.10v11.6zM279.0 497.5v-3.9h1.10v3.9zM279.9 497.5v-33.3h1.30v33.3zM280.8 497.5v-5.8h1.60v5.8zM281.8 497.5v-7.4h1.60v7.4zM283.1 497.5v-12.5h1.30v12.5zM284.0 497.5v-6.2h1.60v6.2zM285.0 497.5v-9.5h1.60v9.5zM286.3 497.5v-57.3h1.30v57.3zM287.2 497.5v-18.6h1.60v18.6zM288.6 497.5v-34.9h1.30v34.9zM289.4 497.5v-22.2h1.60v22.2zM290.8 497.5v-96.0h1.30v96.0zM291.6 497.5v-67.4h1.60v67.4zM292.6 497.5v-56.2h1.60v56.2zM293.7 497.5v-98.6h1.30v98.6zM295.0 497.5v-83.7h1.30v83.7zM296.2 497.5v-92.5h1.30v92.5zM297.5 497.5v-63.7h1.30v63.7zM299.0 497.5v-117.3h1.30v117.3zM299.8 497.5v-99.7h1.30v99.7zM301.0 497.5v-74.9h1.30v74.9zM302.6 497.5v-90.9h1.30v90.9zM303.5 497.5v-71.9h1.60v71.9zM304.9 497.5v-94.6h1.30v94.6zM306.2 497.5v-63.7h1.30v63.7zM307.0 497.5v-47.9h1.60v47.9zM308.6 497.5v-117.3h1.30v117.3zM309.7 497.5v-67.7h1.30v67.7zM311.3 497.5v-98.6h1.30v98.6zM312.1 497.5v-18.8h1.60v18.8zM313.1 497.5v-15.9h1.60v15.9zM314.1 497.5v-17.7h1.60v17.7zM315.1 497.5v-18.5h1.60v18.5zM316.1 497.5v-39.7h1.30v39.7zM318.0 497.5v-4.4h1.00v4.4zM322.3 497.5v-24.5h1.30v24.5zM323.2 497.5v-15.5h1.60v15.5zM324.2 497.5v-20.2h1.60v20.2zM325.2 497.5v-21.7h1.60v21.7zM326.2 497.5v-11.6h1.60v11.6zM327.0 497.5v-42.1h1.30v42.1zM328.6 497.5v-46.1h1.30v46.1zM329.4 497.5v-29.2h1.60v29.2zM331.1 497.5v-66.1h1.30v66.1zM332.6 497.5v-22.1h1.30v22.1zM333.4 497.5v-15.7h1.60v15.7zM334.4 497.5v-17.6h1.60v17.6zM335.4 497.5v-17.6h1.60v17.6zM336.4 497.5v-12.2h1.60v12.2zM337.2 497.5v-66.1h1.30v66.1zM338.6 497.5v-94.6h1.30v94.6zM339.5 497.5v-20.1h1.60v20.1zM340.5 497.5v-13.9h1.60v13.9zM341.4 497.5v-34.9h1.30v34.9zM342.2 497.5v-12.7h1.60v12.7zM343.3 497.5v-69.3h1.30v69.3zM344.7 497.5v-86.9h1.30v86.9zM346.2 497.5v-37.3h1.30v37.3zM347.0 497.5v-18.6h1.60v18.6zM348.0 497.5v-23.7h1.60v23.7zM349.7 497.5v-78.4h1.30v78.4zM350.8 497.5v-31.9h1.10v31.9zM357.7 497.5v-3.6h1.10v3.6zM355.6 497.5v-2.7h1.00v2.7zM356.6 497.5v-4.6h1.00v4.6zM358.6 497.5v-14.4h1.30v14.4zM359.5 497.5v-11.1h1.60v11.1zM360.5 497.5v-8.6h1.60v8.6zM361.5 497.5v-9.8h1.60v9.8zM362.5 497.5v-36.8h1.30v36.8zM363.3 497.5v-22.6h1.60v22.6zM364.7 497.5v-59.7h1.30v59.7zM366.3 497.5v-10.1h1.30v10.1zM367.2 497.5v-4.9h1.60v4.9zM368.6 497.5v-45.3h1.30v45.3zM370.2 497.5v-103.7h1.30v103.7zM371.8 497.5v-117.3h1.30v117.3zM372.7 497.5v-117.3h1.30v117.3zM373.6 497.5v-41.6h1.60v41.6zM375.0 497.5v-79.7h1.30v79.7zM376.9 497.5v-3.8h1.00v3.8zM377.9 497.5v-6.3h1.00v6.3zM380.1 497.5v-64.5h1.30v64.5zM380.9 497.5v-4.8h1.60v4.8zM382.0 497.5v-10.9h1.30v10.9zM383.1 497.5v-1.6h1.10v1.6zM384.9 497.5v-4.3h1.00v4.3zM385.9 497.5v-2.6h1.00v2.6zM388.7 497.5v-59.7h1.30v59.7zM389.8 497.5v-89.6h1.30v89.6zM390.7 497.5v-21.3h1.60v21.3zM392.2 497.5v-27.7h1.30v27.7zM393.7 497.5v-79.7h1.30v79.7zM395.0 497.5v-98.6h1.30v98.6zM395.8 497.5v-24.2h1.60v24.2zM396.7 497.5v-52.5h1.30v52.5zM397.6 497.5v-21.6h1.60v21.6zM398.6 497.5v-103.7h1.30v103.7zM399.9 497.5v-117.3h1.30v117.3zM400.9 497.5v-117.3h1.30v117.3zM401.8 497.5v-117.3h1.30v117.3zM402.8 497.5v-117.3h1.30v117.3zM403.8 497.5v-117.3h1.30v117.3zM405.0 497.5v-55.7h1.30v55.7zM406.6 497.5v-31.7h1.30v31.7zM407.5 497.5v-18.1h1.60v18.1zM408.7 497.5v-112.2h1.30v112.2zM409.6 497.5v-53.9h1.60v53.9zM411.1 497.5v-93.3h1.30v93.3zM412.7 497.5v-57.3h1.30v57.3zM413.8 497.5v-89.6h1.30v89.6zM414.7 497.5v-37.0h1.60v37.0zM416.2 497.5v-49.6h1.30v49.6zM417.4 497.5v-15.6h1.10v15.6zM422.8 497.5v-13.1h1.10v13.1zM419.2 497.5v-10.0h1.00v10.0zM421.2 497.5v-8.1h1.00v8.1zM423.8 497.5v-98.6h1.30v98.6zM424.6 497.5v-5.0h1.60v5.0zM425.6 497.5v-6.5h1.60v6.5zM427.0 497.5v-8.5h1.30v8.5zM431.0 497.5v-13.3h1.30v13.3zM431.8 497.5v-10.5h1.60v10.5zM432.8 497.5v-11.1h1.60v11.1zM433.8 497.5v-9.5h1.60v9.5zM435.0 497.5v-16.0h1.30v16.0zM435.8 497.5v-8.5h1.60v8.5zM436.8 497.5v-6.5h1.60v6.5zM437.8 497.5v-12.7h1.60v12.7zM439.0 497.5v-18.1h1.30v18.1zM439.9 497.5v-37.3h1.30v37.3zM441.2 497.5v-39.7h1.30v39.7zM442.5 497.5v-18.1h1.30v18.1zM449.2 497.5v-0.6h1.10v0.6zM444.4 497.5v-2.0h1.00v2.0zM446.4 497.5v-2.3h1.00v2.3zM448.4 497.5v-2.3h1.00v2.3zM450.2 497.5v-3.2h1.30v3.2zM451.0 497.5v-1.5h1.60v1.5zM452.0 497.5v-2.3h1.60v2.3zM453.4 497.5v-2.6h1.30v2.6zM454.2 497.5v-1.7h1.60v1.7zM455.2 497.5v-2.0h1.60v2.0zM456.6 497.5v-2.9h1.30v2.9zM463.6 497.5v-1.2h1.10v1.2zM464.6 497.5v-10.1h1.30v10.1zM466.2 497.5v-66.1h1.30v66.1zM467.4 497.5v-16.5h1.30v16.5zM468.7 497.5v-37.3h1.30v37.3zM470.0 497.5v-35.7h1.30v35.7zM471.3 497.5v-93.3h1.30v93.3zM472.6 497.5v-36.5h1.30v36.5zM473.5 497.5v-22.1h1.30v22.1zM474.5 497.5v-12.5h1.30v12.5zM475.3 497.5v-3.4h1.60v3.4zM476.3 497.5v-4.7h1.60v4.7zM477.4 497.5v-5.3h1.30v5.3zM478.2 497.5v-3.9h1.60v3.9zM479.9 497.5v-10.9h1.30v10.9zM480.8 497.5v-5.4h1.60v5.4zM481.8 497.5v-6.3h1.60v6.3zM482.8 497.5v-6.9h1.30v6.9zM483.6 497.5v-2.3h1.60v2.3zM484.6 497.5v-3.5h1.60v3.5zM485.6 497.5v-3.6h1.60v3.6zM487.3 497.5v-6.1h1.30v6.1zM488.9 497.5v-10.9h1.30v10.9zM490.0 497.5v-3.7h1.10v3.7zM496.4 497.5v-0.4h1.10v0.4zM490.8 497.5v-2.2h1.00v2.2zM493.8 497.5v-2.3h1.00v2.3zM494.8 497.5v-1.7h1.00v1.7zM497.4 497.5v-2.1h1.30v2.1zM498.2 497.5v-1.5h1.60v1.5zM499.2 497.5v-1.4h1.60v1.4zM500.6 497.5v-1.9h1.30v1.9zM501.4 497.5v-1.3h1.60v1.3zM502.4 497.5v-1.7h1.60v1.7zM503.8 497.5v-2.1h1.30v2.1zM504.6 497.5v-1.5h1.60v1.5zM505.6 497.5v-1.7h1.60v1.7zM507.1 497.5v-3.2h1.30v3.2zM508.0 497.5v-1.7h1.60v1.7zM509.0 497.5v-1.3h1.60v1.3zM510.0 497.5v-1.8h1.60v1.8zM511.0 497.5v-19.7h1.30v19.7zM512.6 497.5v-18.9h1.30v18.9zM513.8 497.5v-27.2h1.30v27.2zM526.0 497.5v-0.5h1.10v0.5zM527.0 497.5v-2.1h1.30v2.1zM527.8 497.5v-1.2h1.60v1.2zM528.8 497.5v-0.7h1.60v0.7zM529.8 497.5v-4.8h1.30v4.8zM530.7 497.5v-1.1h1.60v1.1zM531.8 497.5v-2.1h1.30v2.1zM532.9 497.5v-0.4h1.10v0.4zM538.8 497.5v-0.5h1.10v0.5zM535.7 497.5v-2.4h1.00v2.4zM537.7 497.5v-2.3h1.00v2.3zM539.8 497.5v-2.1h1.30v2.1zM540.6 497.5v-1.7h1.60v1.7zM541.6 497.5v-1.7h1.60v1.7zM543.3 497.5v-4.5h1.30v4.5zM544.1 497.5v-1.6h1.60v1.6zM545.4 497.5v-6.9h1.30v6.9zM547.0 497.5v-7.7h1.30v7.7zM547.8 497.5v-6.9h1.60v6.9zM548.7 497.5v-8.5h1.30v8.5zM549.6 497.5v-1.0h1.60v1.0zM550.6 497.5v-0.9h1.60v0.9zM551.6 497.5v-1.6h1.60v1.6zM552.6 497.5v-2.1h1.30v2.1zM553.4 497.5v-0.8h1.60v0.8zM555.0 497.5v-1.9h1.30v1.9zM555.8 497.5v-1.5h1.60v1.5zM557.4 497.5v-10.9h1.30v10.9zM558.6 497.5v-10.1h1.30v10.1zM559.5 497.5v-8.0h1.60v8.0zM561.2 497.5v-9.3h1.30v9.3zM562.5 497.5v-18.6h1.30v18.6zM563.8 497.5v-19.7h1.30v19.7zM565.0 497.5v-18.1h1.30v18.1zM566.2 497.5v-6.7h1.10v6.7zM570.0 497.5v-0.7h1.10v0.7zM569.0 497.5v-2.1h1.00v2.1zM571.0 497.5v-1.6h1.30v1.6zM572.1 497.5v-0.6h1.10v0.6zM587.6 497.5v-0.7h1.10v0.7zM588.6 497.5v-1.6h1.30v1.6zM589.7 497.5v-0.3h1.10v0.3zM602.8 497.5v-0.3h1.10v0.3zM603.8 497.5v-2.1h1.30v2.1zM604.6 497.5v-0.8h1.60v0.8zM605.6 497.5v-0.9h1.60v0.9zM607.0 497.5v-2.1h1.30v2.1zM607.8 497.5v-1.2h1.60v1.2zM609.4 497.5v-1.9h1.30v1.9zM610.2 497.5v-1.6h1.60v1.6zM611.8 497.5v-2.1h1.30v2.1zM612.6 497.5v-1.7h1.60v1.7zM613.6 497.5v-1.4h1.60v1.4zM615.0 497.5v-2.1h1.30v2.1zM615.8 497.5v-1.3h1.60v1.3zM616.8 497.5v-0.9h1.60v0.9zM617.8 497.5v-0.6h1.60v0.6zM618.8 497.5v-1.1h1.60v1.1zM619.8 497.5v-1.6h1.30v1.6zM620.9 497.5v-0.5h1.10v0.5zM632.6 497.5v-13.6h1.10v13.6zM633.5 497.5v-32.0h1.30v32.0zM634.8 497.5v-28.5h1.30v28.5zM636.2 497.5v-38.4h1.30v38.4zM637.4 497.5v-18.1h1.30v18.1zM638.6 497.5v-12.5h1.30v12.5zM640.2 497.5v-13.3h1.30v13.3zM641.5 497.5v-9.3h1.30v9.3zM642.7 497.5v-4.1h1.10v4.1zM652.4 497.5v-14.9h1.10v14.9zM653.4 497.5v-57.3h1.30v57.3zM655.0 497.5v-70.9h1.30v70.9zM656.2 497.5v-50.9h1.30v50.9zM657.5 497.5v-64.5h1.30v64.5zM658.8 497.5v-37.3h1.30v37.3zM660.1 497.5v-54.1h1.30v54.1zM661.4 497.5v-147.2h1.30v147.2zM662.6 497.5v-78.1h1.30v78.1zM663.9 497.5v-44.5h1.30v44.5zM665.2 497.5v-4.5h1.30v4.5zM666.5 497.5v-10.9h1.30v10.9zM667.3 497.5v-4.0h1.60v4.0zM668.7 497.5v-15.7h1.30v15.7zM670.0 497.5v-107.2h1.30v107.2zM671.3 497.5v-71.7h1.30v71.7zM672.6 497.5v-64.5h1.30v64.5zM673.4 497.5v-45.5h1.60v45.5zM674.8 497.5v-106.1h1.30v106.1zM675.8 497.5v-106.1h1.30v106.1zM676.6 497.5v-40.8h1.60v40.8zM677.7 497.5v-48.5h1.30v48.5zM678.6 497.5v-33.3h1.30v33.3zM679.9 497.5v-22.1h1.30v22.1zM681.2 497.5v-55.7h1.30v55.7zM682.5 497.5v-68.2h1.30v68.2zM683.4 497.5v-6.1h1.30v6.1zM684.3 497.5v-3.8h1.60v3.8zM686.0 497.5v-6.9h1.30v6.9zM687.6 497.5v-4.5h1.30v4.5zM688.9 497.5v-7.7h1.30v7.7zM690.5 497.5v-9.3h1.30v9.3zM692.1 497.5v-18.1h1.30v18.1zM693.4 497.5v-13.3h1.30v13.3zM695.0 497.5v-83.2h1.30v83.2zM696.2 497.5v-72.0h1.30v72.0zM697.5 497.5v-72.0h1.30v72.0zM698.8 497.5v-33.3h1.30v33.3zM699.6 497.5v-4.8h1.60v4.8zM701.4 497.5v-6.1h1.30v6.1zM702.6 497.5v-11.7h1.30v11.7zM703.5 497.5v-7.0h1.60v7.0zM704.9 497.5v-23.4h1.30v23.4zM706.1 497.5v-10.9h1.30v10.9zM707.0 497.5v-7.2h1.60v7.2zM708.7 497.5v-26.1h1.30v26.1zM710.0 497.5v-23.7h1.30v23.7zM711.3 497.5v-18.9h1.30v18.9zM712.6 497.5v-26.1h1.30v26.1zM714.1 497.5v-27.2h1.30v27.2zM715.8 497.5v-26.1h1.30v26.1zM717.4 497.5v-24.5h1.30v24.5zM718.6 497.5v-14.9h1.30v14.9zM719.9 497.5v-4.5h1.30v4.5zM724.7 497.5v-3.3h1.10v3.3zM721.9 497.5v-2.2h1.00v2.2zM722.9 497.5v-2.3h1.00v2.3zM725.7 497.5v-8.5h1.30v8.5zM726.5 497.5v-6.8h1.60v6.8zM727.3 497.5v-14.4h1.30v14.4zM728.6 497.5v-12.5h1.30v12.5zM729.8 497.5v-13.3h1.30v13.3zM731.1 497.5v-7.7h1.30v7.7zM732.7 497.5v-8.5h1.30v8.5zM733.6 497.5v-4.5h1.60v4.5zM735.0 497.5v-37.3h1.30v37.3zM736.2 497.5v-50.9h1.30v50.9zM737.5 497.5v-18.1h1.30v18.1zM738.5 497.5v-14.1h1.30v14.1zM740.1 497.5v-33.3h1.30v33.3zM741.4 497.5v-32.0h1.30v32.0zM742.6 497.5v-14.9h1.30v14.9zM743.9 497.5v-17.3h1.30v17.3zM744.8 497.5v-10.2h1.60v10.2zM745.5 497.5v-14.9h1.30v14.9zM746.8 497.5v-21.3h1.30v21.3zM748.1 497.5v-20.5h1.30v20.5zM749.9 497.5v-8.9h1.20v8.9zM750.9 497.5v-4.7h1.20v4.7zM751.9 497.5v-4.1h1.20v4.1zM752.9 497.5v-8.1h1.20v8.1zM753.9 497.5v-10.1h1.20v10.1zM754.9 497.5v-7.6h1.20v7.6zM755.9 497.5v-7.1h1.20v7.1zM756.9 497.5v-5.9h1.20v5.9zM757.9 497.5v-5.2h1.20v5.2zM758.9 497.5v-4.7h1.20v4.7zM759.9 497.5v-3.8h1.20v3.8zM760.9 497.5v-4.6h1.20v4.6zM761.9 497.5v-6.3h1.20v6.3zM762.9 497.5v-4.1h1.20v4.1zM763.9 497.5v-13.7h1.20v13.7zM764.9 497.5v-11.1h1.20v11.1zM765.9 497.5v-12.3h1.20v12.3zM766.9 497.5v-9.9h1.20v9.9zM767.9 497.5v-11.2h1.20v11.2zM768.9 497.5v-12.1h1.20v12.1zM769.9 497.5v-15.1h1.20v15.1zM770.9 497.5v-23.4h1.20v23.4zM771.9 497.5v-24.4h1.20v24.4zM772.9 497.5v-24.3h1.20v24.3zM773.9 497.5v-34.3h1.20v34.3zM774.9 497.5v-60.1h1.20v60.1zM775.9 497.5v-51.6h1.20v51.6zM776.9 497.5v-31.1h1.20v31.1zM777.9 497.5v-21.3h1.20v21.3zM778.9 497.5v-22.2h1.20v22.2zM779.9 497.5v-11.1h1.20v11.1zM780.9 497.5v-79.4h1.20v79.4zM781.9 497.5v-44.1h1.20v44.1zM782.9 497.5v-84.7h1.20v84.7zM783.9 497.5v-19.2h1.20v19.2zM784.9 497.5v-54.3h1.20v54.3zM785.9 497.5v-59.6h1.20v59.6zM786.9 497.5v-107.6h1.20v107.6zM787.9 497.5v-78.7h1.20v78.7zM788.9 497.5v-78.1h1.20v78.1zM789.9 497.5v-96.0h1.20v96.0zM790.9 497.5v-79.0h1.20v79.0zM791.9 497.5v-66.0h1.20v66.0zM792.9 497.5v-39.1h1.20v39.1zM793.9 497.5v-62.6h1.20v62.6zM794.9 497.5v-34.3h1.20v34.3zM795.9 497.5v-35.1h1.20v35.1zM796.9 497.5v-18.2h1.20v18.2zM797.9 497.5v-17.6h1.20v17.6zM798.9 497.5v-19.9h1.20v19.9zM799.9 497.5v-21.1h1.20v21.1zM800.9 497.5v-12.5h1.20v12.5zM801.9 497.5v-12.0h1.20v12.0zM802.9 497.5v-4.1h1.20v4.1zM832.9 497.5v-5.4h1.20v5.4zM833.9 497.5v-11.5h1.20v11.5zM834.9 497.5v-13.0h1.20v13.0zM835.9 497.5v-26.7h1.20v26.7zM836.9 497.5v-14.5h1.20v14.5zM837.9 497.5v-10.6h1.20v10.6zM838.9 497.5v-11.7h1.20v11.7zM839.9 497.5v-11.5h1.20v11.5zM840.9 497.5v-15.8h1.20v15.8zM841.9 497.5v-16.7h1.20v16.7zM842.9 497.5v-18.3h1.20v18.3zM843.9 497.5v-14.9h1.20v14.9zM844.9 497.5v-19.9h1.20v19.9zM845.9 497.5v-14.8h1.20v14.8zM846.9 497.5v-18.2h1.20v18.2zM847.9 497.5v-24.9h1.20v24.9zM848.9 497.5v-14.3h1.20v14.3zM849.9 497.5v-11.8h1.20v11.8zM850.9 497.5v-16.9h1.20v16.9zM851.9 497.5v-20.4h1.20v20.4zM852.9 497.5v-14.5h1.20v14.5zM853.9 497.5v-14.5h1.20v14.5zM854.9 497.5v-12.3h1.20v12.3zM855.9 497.5v-9.5h1.20v9.5zM856.9 497.5v-9.9h1.20v9.9zM857.9 497.5v-7.5h1.20v7.5zM858.9 497.5v-10.3h1.20v10.3zM859.9 497.5v-11.5h1.20v11.5zM860.9 497.5v-22.2h1.20v22.2zM861.9 497.5v-13.7h1.20v13.7zM862.9 497.5v-17.3h1.20v17.3zM863.9 497.5v-15.7h1.20v15.7zM864.9 497.5v-17.0h1.20v17.0zM865.9 497.5v-8.2h1.20v8.2zM866.9 497.5v-19.3h1.20v19.3zM867.9 497.5v-47.8h1.20v47.8zM868.9 497.5v-68.6h1.20v68.6zM869.9 497.5v-33.4h1.20v33.4zM870.9 497.5v-75.0h1.20v75.0zM871.9 497.5v-109.4h1.20v109.4zM872.9 497.5v-51.1h1.20v51.1zM873.9 497.5v-28.5h1.20v28.5zM874.9 497.5v-23.9h1.20v23.9zM875.9 497.5v-63.2h1.20v63.2zM876.9 497.5v-32.4h1.20v32.4zM877.9 497.5v-26.0h1.20v26.0zM878.9 497.5v-38.4h1.20v38.4zM879.9 497.5v-34.8h1.20v34.8zM880.9 497.5v-28.4h1.20v28.4zM881.9 497.5v-16.3h1.20v16.3zM882.9 497.5v-16.3h1.20v16.3zM883.9 497.5v-24.8h1.20v24.8zM884.9 497.5v-23.1h1.20v23.1zM885.9 497.5v-27.0h1.20v27.0zM886.9 497.5v-17.6h1.20v17.6zM887.9 497.5v-14.3h1.20v14.3zM888.9 497.5v-16.2h1.20v16.2zM889.9 497.5v-6.4h1.20v6.4zM890.9 497.5v-2.7h1.20v2.7zM894.9 497.5v-9.1h1.20v9.1zM895.9 497.5v-7.7h1.20v7.7zM896.9 497.5v-7.4h1.20v7.4zM897.9 497.5v-5.4h1.20v5.4zM898.9 497.5v-8.2h1.20v8.2zM899.9 497.5v-12.4h1.20v12.4zM900.9 497.5v-7.3h1.20v7.3zM901.9 497.5v-5.3h1.20v5.3zM902.9 497.5v-2.5h1.20v2.5zM905.9 497.5v-3.5h1.20v3.5zM906.9 497.5v-8.8h1.20v8.8zM907.9 497.5v-8.3h1.20v8.3zM908.9 497.5v-5.0h1.20v5.0zM909.9 497.5v-7.1h1.20v7.1zM910.9 497.5v-9.0h1.20v9.0zM911.9 497.5v-12.3h1.20v12.3zM912.9 497.5v-13.4h1.20v13.4zM913.9 497.5v-9.9h1.20v9.9zM914.9 497.5v-11.8h1.20v11.8zM915.9 497.5v-27.5h1.20v27.5zM916.9 497.5v-24.3h1.20v24.3zM917.9 497.5v-32.7h1.20v32.7zM918.9 497.5v-17.1h1.20v17.1zM919.9 497.5v-47.7h1.20v47.7zM920.9 497.5v-28.4h1.20v28.4zM921.9 497.5v-24.6h1.20v24.6zM922.9 497.5v-24.4h1.20v24.4zM923.9 497.5v-26.2h1.20v26.2zM924.9 497.5v-30.3h1.20v30.3zM925.9 497.5v-45.9h1.20v45.9zM926.9 497.5v-41.9h1.20v41.9zM927.9 497.5v-70.6h1.20v70.6zM928.9 497.5v-37.1h1.20v37.1zM929.9 497.5v-44.0h1.20v44.0zM930.9 497.5v-21.0h1.20v21.0zM931.9 497.5v-37.8h1.20v37.8zM932.9 497.5v-51.2h1.20v51.2zM933.9 497.5v-45.4h1.20v45.4zM934.9 497.5v-22.4h1.20v22.4zM935.9 497.5v-20.4h1.20v20.4zM936.9 497.5v-17.2h1.20v17.2zM937.9 497.5v-26.9h1.20v26.9zM938.9 497.5v-43.9h1.20v43.9zM939.9 497.5v-81.9h1.20v81.9zM940.9 497.5v-67.3h1.20v67.3zM941.9 497.5v-48.6h1.20v48.6zM942.9 497.5v-46.1h1.20v46.1zM775.0 497.5v-68.5h1.30v68.5zM779.0 497.5v-34.9h1.30v34.9zM781.0 497.5v-86.9h1.30v86.9zM784.9 497.5v-116.2h1.30v116.2zM788.9 497.5v-134.6h1.30v134.6zM795.1 497.5v-78.1h1.30v78.1zM812.1 497.5v-6.9h1.30v6.9zM815.9 497.5v-13.3h1.30v13.3zM823.8 497.5v-14.1h1.30v14.1zM826.1 497.5v-30.9h1.30v30.9zM827.8 497.5v-18.9h1.30v18.9zM829.4 497.5v-6.1h1.30v6.1zM831.3 497.5v-26.1h1.30v26.1zM842.6 497.5v-74.6h1.30v74.6zM870.0 497.5v-122.1h1.30v122.1zM879.9 497.5v-78.1h1.30v78.1zM887.4 497.5v-47.4h1.30v47.4zM906.1 497.5v-22.1h1.30v22.1zM919.9 497.5v-73.3h1.30v73.3zM927.3 497.5v-124.5h1.30v124.5zM931.4 497.5v-86.1h1.30v86.1zM939.8 497.5v-104.5h1.30v104.5zM1069.9 497.5v-10.9h1.20v10.9zM1070.9 497.5v-5.4h1.20v5.4zM1071.9 497.5v-12.9h1.20v12.9zM1072.9 497.5v-6.8h1.20v6.8zM1073.9 497.5v-8.9h1.20v8.9zM1074.9 497.5v-4.9h1.20v4.9zM1078.9 497.5v-6.3h1.20v6.3zM1079.9 497.5v-11.6h1.20v11.6zM1080.9 497.5v-19.7h1.20v19.7zM1081.9 497.5v-15.8h1.20v15.8zM1082.9 497.5v-20.0h1.20v20.0zM1083.9 497.5v-31.4h1.20v31.4zM1084.9 497.5v-25.8h1.20v25.8zM1085.9 497.5v-25.3h1.20v25.3zM1086.9 497.5v-41.1h1.20v41.1zM1087.9 497.5v-31.5h1.20v31.5zM1088.9 497.5v-31.9h1.20v31.9zM1089.9 497.5v-37.1h1.20v37.1zM1090.9 497.5v-27.5h1.20v27.5zM1091.9 497.5v-37.3h1.20v37.3zM1092.9 497.5v-39.9h1.20v39.9zM1093.9 497.5v-32.9h1.20v32.9zM1094.9 497.5v-39.1h1.20v39.1zM1095.9 497.5v-36.0h1.20v36.0zM1096.9 497.5v-60.5h1.20v60.5zM1097.9 497.5v-55.9h1.20v55.9zM1098.9 497.5v-33.7h1.20v33.7zM1099.9 497.5v-43.3h1.20v43.3zM1100.9 497.5v-31.1h1.20v31.1zM1101.9 497.5v-28.7h1.20v28.7zM1102.9 497.5v-29.4h1.20v29.4zM1103.9 497.5v-12.9h1.20v12.9zM1104.9 497.5v-12.4h1.20v12.4zM1105.9 497.5v-11.1h1.20v11.1zM1106.9 497.5v-14.0h1.20v14.0zM1107.9 497.5v-7.8h1.20v7.8zM1108.9 497.5v-19.7h1.20v19.7zM1269.9 497.5v-7.2h1.20v7.2zM1270.9 497.5v-8.7h1.20v8.7zM1271.9 497.5v-6.6h1.20v6.6zM1272.9 497.5v-4.1h1.20v4.1zM1273.9 497.5v-11.2h1.20v11.2zM1274.9 497.5v-8.1h1.20v8.1zM1275.9 497.5v-7.8h1.20v7.8zM1289.9 497.5v-2.4h1.20v2.4zM1298.9 497.5v-3.1h1.20v3.1zM1299.9 497.5v-11.6h1.20v11.6zM1300.9 497.5v-12.7h1.20v12.7zM1301.9 497.5v-11.3h1.20v11.3zM1302.9 497.5v-9.9h1.20v9.9zM1303.9 497.5v-9.1h1.20v9.1zM1304.9 497.5v-13.1h1.20v13.1zM1305.9 497.5v-23.7h1.20v23.7zM1306.9 497.5v-35.9h1.20v35.9zM1307.9 497.5v-22.7h1.20v22.7zM1308.9 497.5v-21.3h1.20v21.3zM1309.9 497.5v-14.6h1.20v14.6zM1310.9 497.5v-14.3h1.20v14.3zM1311.9 497.5v-13.6h1.20v13.6zM1312.9 497.5v-17.0h1.20v17.0zM1313.9 497.5v-9.2h1.20v9.2zM1314.9 497.5v-22.1h1.20v22.1zM1315.9 497.5v-17.0h1.20v17.0zM1316.9 497.5v-18.6h1.20v18.6zM1317.9 497.5v-15.4h1.20v15.4zM1318.9 497.5v-12.0h1.20v12.0zM1319.9 497.5v-6.5h1.20v6.5zM1320.9 497.5v-13.2h1.20v13.2zM1321.9 497.5v-5.5h1.20v5.5zM1322.9 497.5v-8.5h1.20v8.5zM1323.9 497.5v-4.0h1.20v4.0zM1324.9 497.5v-4.3h1.20v4.3zM1325.9 497.5v-19.9h1.20v19.9zM1326.9 497.5v-29.6h1.20v29.6zM1327.9 497.5v-40.0h1.20v40.0zM1328.9 497.5v-22.7h1.20v22.7zM1329.9 497.5v-12.9h1.20v12.9zM1330.9 497.5v-12.4h1.20v12.4zM1331.9 497.5v-13.1h1.20v13.1zM1332.9 497.5v-14.0h1.20v14.0zM1333.9 497.5v-9.8h1.20v9.8zM1334.9 497.5v-3.7h1.20v3.7zM1335.9 497.5v-7.5h1.20v7.5zM1336.9 497.5v-10.1h1.20v10.1zM1337.9 497.5v-1.9h1.20v1.9zM1338.9 497.5v-5.1h1.20v5.1zM1339.9 497.5v-13.5h1.20v13.5zM1340.9 497.5v-9.1h1.20v9.1zM1341.9 497.5v-8.4h1.20v8.4zM1342.9 497.5v-4.0h1.20v4.0zM1343.9 497.5v-12.1h1.20v12.1zM1344.9 497.5v-6.4h1.20v6.4zM1345.9 497.5v-8.0h1.20v8.0zM1346.9 497.5v-19.8h1.20v19.8zM1347.9 497.5v-17.3h1.20v17.3zM1348.9 497.5v-11.8h1.20v11.8zM1349.9 497.5v-6.5h1.20v6.5zM1350.9 497.5v-9.0h1.20v9.0zM1351.9 497.5v-11.7h1.20v11.7zM1352.9 497.5v-11.7h1.20v11.7zM1353.9 497.5v-16.3h1.20v16.3zM1354.9 497.5v-17.1h1.20v17.1zM1355.9 497.5v-14.7h1.20v14.7zM1356.9 497.5v-13.0h1.20v13.0zM1357.9 497.5v-11.9h1.20v11.9zM1358.9 497.5v-7.5h1.20v7.5zM1359.9 497.5v-6.0h1.20v6.0zM1360.9 497.5v-6.3h1.20v6.3zM1361.9 497.5v-7.9h1.20v7.9zM1362.9 497.5v-9.6h1.20v9.6zM1363.9 497.5v-12.3h1.20v12.3zM1364.9 497.5v-5.8h1.20v5.8zM1365.9 497.5v-1.8h1.20v1.8zM1367.9 497.5v-1.9h1.20v1.9zM1368.9 497.5v-2.1h1.20v2.1zM1369.9 497.5v-5.1h1.20v5.1zM1370.9 497.5v-7.3h1.20v7.3zM1371.9 497.5v-7.1h1.20v7.1zM1372.9 497.5v-20.0h1.20v20.0zM1373.9 497.5v-11.9h1.20v11.9zM1374.9 497.5v-9.3h1.20v9.3zM1375.9 497.5v-11.1h1.20v11.1zM1376.9 497.5v-16.9h1.20v16.9zM1377.9 497.5v-16.8h1.20v16.8zM1378.9 497.5v-15.4h1.20v15.4zM1379.9 497.5v-13.8h1.20v13.8zM1380.9 497.5v-15.1h1.20v15.1zM1381.9 497.5v-16.4h1.20v16.4zM1382.9 497.5v-17.4h1.20v17.4zM1383.9 497.5v-14.9h1.20v14.9zM1384.9 497.5v-16.3h1.20v16.3zM1385.9 497.5v-17.3h1.20v17.3zM1386.9 497.5v-19.9h1.20v19.9zM1387.9 497.5v-20.6h1.20v20.6zM1388.9 497.5v-20.8h1.20v20.8zM1089.8 497.5v-94.7h1.30v94.7zM1092.5 497.5v-62.2h1.30v62.2zM1099.8 497.5v-77.1h1.30v77.1zM1281.3 497.5v-17.1h1.30v17.1zM1296.5 497.5v-18.7h1.30v18.7zM1307.4 497.5v-45.9h1.30v45.9zM1311.3 497.5v-39.5h1.30v39.5zM1319.8 497.5v-32.3h1.30v32.3zM1326.3 497.5v-52.3h1.30v52.3zM1341.3 497.5v-22.7h1.30v22.7zM1389.9 497.5v-15.9h1.20v15.9zM1390.9 497.5v-13.6h1.20v13.6zM1391.9 497.5v-10.5h1.20v10.5zM1392.9 497.5v-18.0h1.20v18.0zM1393.9 497.5v-25.1h1.20v25.1zM1394.9 497.5v-13.6h1.20v13.6zM1395.9 497.5v-7.5h1.20v7.5zM1396.9 497.5v-4.3h1.20v4.3zM1397.9 497.5v-2.2h1.20v2.2zM1398.9 497.5v-2.1h1.20v2.1zM1399.9 497.5v-1.5h1.20v1.5zM1400.9 497.5v-6.4h1.20v6.4zM1401.9 497.5v-3.8h1.20v3.8zM1402.9 497.5v-10.9h1.20v10.9zM1403.9 497.5v-6.3h1.20v6.3zM1404.9 497.5v-8.8h1.20v8.8zM1405.9 497.5v-9.3h1.20v9.3zM1406.9 497.5v-13.1h1.20v13.1zM1407.9 497.5v-16.5h1.20v16.5zM1408.9 497.5v-35.5h1.20v35.5zM1409.9 497.5v-22.6h1.20v22.6zM1410.9 497.5v-27.0h1.20v27.0zM1411.9 497.5v-9.7h1.20v9.7zM1412.9 497.5v-19.8h1.20v19.8zM1413.9 497.5v-30.6h1.20v30.6zM1414.9 497.5v-16.5h1.20v16.5zM1415.9 497.5v-1.2h1.20v1.2zM1416.9 497.5v-2.8h1.20v2.8zM1417.9 497.5v-5.3h1.20v5.3zM1418.9 497.5v-5.8h1.20v5.8zM1419.9 497.5v-7.8h1.20v7.8zM1420.9 497.5v-6.1h1.20v6.1zM1421.9 497.5v-7.3h1.20v7.3zM1422.9 497.5v-9.3h1.20v9.3zM1423.9 497.5v-10.4h1.20v10.4zM1424.9 497.5v-8.0h1.20v8.0zM1425.9 497.5v-6.5h1.20v6.5zM1426.9 497.5v-5.9h1.20v5.9zM1427.9 497.5v-5.2h1.20v5.2zM1428.9 497.5v-3.1h1.20v3.1zM1429.9 497.5v-3.3h1.20v3.3zM1430.9 497.5v-3.2h1.20v3.2zM1431.9 497.5v-2.5h1.20v2.5zM1432.9 497.5v-1.4h1.20v1.4zM1433.9 497.5v-4.9h1.20v4.9zM1434.9 497.5v-7.4h1.20v7.4zM1435.9 497.5v-7.3h1.20v7.3zM1436.9 497.5v-7.6h1.20v7.6zM1437.9 497.5v-10.8h1.20v10.8zM1438.9 497.5v-11.3h1.20v11.3zM1439.9 497.5v-9.9h1.20v9.9zM1440.9 497.5v-6.9h1.20v6.9zM1441.9 497.5v-11.3h1.20v11.3zM1442.9 497.5v-9.7h1.20v9.7zM1443.9 497.5v-11.3h1.20v11.3zM1444.9 497.5v-8.1h1.20v8.1zM1445.9 497.5v-3.8h1.20v3.8zM1446.9 497.5v-2.4h1.20v2.4zM1447.9 497.5v-12.5h1.20v12.5zM1448.9 497.5v-30.4h1.20v30.4zM1449.9 497.5v-16.1h1.20v16.1zM1450.9 497.5v-29.0h1.20v29.0zM1451.9 497.5v-28.2h1.20v28.2zM1452.9 497.5v-17.5h1.20v17.5zM1453.9 497.5v-29.8h1.20v29.8zM1454.9 497.5v-22.4h1.20v22.4zM1455.9 497.5v-27.0h1.20v27.0zM1456.9 497.5v-22.5h1.20v22.5zM1457.9 497.5v-42.5h1.20v42.5zM1458.9 497.5v-19.8h1.20v19.8zM1459.9 497.5v-18.6h1.20v18.6zM1460.9 497.5v-17.5h1.20v17.5zM1461.9 497.5v-13.5h1.20v13.5zM1462.9 497.5v-21.9h1.20v21.9zM1463.9 497.5v-20.5h1.20v20.5zM1464.9 497.5v-31.9h1.20v31.9zM1465.9 497.5v-22.1h1.20v22.1zM1466.9 497.5v-34.5h1.20v34.5zM1467.9 497.5v-21.9h1.20v21.9zM1468.9 497.5v-20.5h1.20v20.5zM1469.9 497.5v-25.5h1.20v25.5zM1470.9 497.5v-33.6h1.20v33.6zM1471.9 497.5v-32.6h1.20v32.6zM1472.9 497.5v-26.4h1.20v26.4zM1473.9 497.5v-45.1h1.20v45.1zM1474.9 497.5v-28.6h1.20v28.6zM1475.9 497.5v-20.0h1.20v20.0zM1476.9 497.5v-36.0h1.20v36.0zM1477.9 497.5v-21.4h1.20v21.4zM1478.9 497.5v-40.0h1.20v40.0zM1479.9 497.5v-57.2h1.20v57.2zM1480.9 497.5v-70.1h1.20v70.1zM1481.9 497.5v-76.2h1.20v76.2zM1482.9 497.5v-63.4h1.20v63.4zM1483.9 497.5v-33.6h1.20v33.6zM1484.9 497.5v-23.7h1.20v23.7zM1485.9 497.5v-9.4h1.20v9.4zM1486.9 497.5v-24.8h1.20v24.8zM1487.9 497.5v-25.9h1.20v25.9zM1488.9 497.5v-12.1h1.20v12.1zM1489.9 497.5v-18.6h1.20v18.6zM1490.9 497.5v-18.7h1.20v18.7zM1491.9 497.5v-25.7h1.20v25.7zM1492.9 497.5v-19.3h1.20v19.3zM1493.9 497.5v-12.1h1.20v12.1zM1494.9 497.5v-14.9h1.20v14.9zM1495.9 497.5v-17.0h1.20v17.0zM1496.9 497.5v-11.7h1.20v11.7zM1497.9 497.5v-14.0h1.20v14.0zM1498.9 497.5v-14.2h1.20v14.2zM1499.9 497.5v-16.8h1.20v16.8zM1500.9 497.5v-21.8h1.20v21.8zM1501.9 497.5v-18.8h1.20v18.8zM1502.9 497.5v-21.8h1.20v21.8zM1503.9 497.5v-25.5h1.20v25.5zM1504.9 497.5v-13.9h1.20v13.9zM1505.9 497.5v-29.3h1.20v29.3zM1506.9 497.5v-31.0h1.20v31.0zM1507.9 497.5v-34.2h1.20v34.2zM1508.9 497.5v-32.4h1.20v32.4zM1509.9 497.5v-25.8h1.20v25.8zM1510.9 497.5v-46.3h1.20v46.3zM1511.9 497.5v-67.4h1.20v67.4zM1512.9 497.5v-70.0h1.20v70.0zM1513.9 497.5v-60.6h1.20v60.6zM1514.9 497.5v-66.7h1.20v66.7zM1515.9 497.5v-101.2h1.20v101.2zM1516.9 497.5v-83.0h1.20v83.0zM1517.9 497.5v-118.0h1.20v118.0zM1518.9 497.5v-68.3h1.20v68.3zM1519.9 497.5v-52.4h1.20v52.4zM1520.9 497.5v-42.2h1.20v42.2zM1521.9 497.5v-52.6h1.20v52.6zM1522.9 497.5v-25.5h1.20v25.5zM1523.9 497.5v-63.2h1.20v63.2zM1524.9 497.5v-51.4h1.20v51.4zM1525.9 497.5v-52.9h1.20v52.9zM1526.9 497.5v-45.5h1.20v45.5zM1527.9 497.5v-26.9h1.20v26.9zM1528.9 497.5v-22.2h1.20v22.2zM1529.9 497.5v-17.3h1.20v17.3zM1530.9 497.5v-21.7h1.20v21.7zM1531.9 497.5v-19.3h1.20v19.3zM1532.9 497.5v-12.3h1.20v12.3zM1533.9 497.5v-12.7h1.20v12.7zM1534.9 497.5v-18.8h1.20v18.8zM1535.9 497.5v-19.4h1.20v19.4zM1536.9 497.5v-3.9h1.20v3.9zM1537.9 497.5v-6.8h1.20v6.8zM1538.9 497.5v-7.9h1.20v7.9zM1539.9 497.5v-9.9h1.20v9.9zM1540.9 497.5v-12.3h1.20v12.3zM1541.9 497.5v-16.9h1.20v16.9zM1542.9 497.5v-8.8h1.20v8.8zM1543.9 497.5v-7.7h1.20v7.7zM1544.9 497.5v-8.5h1.20v8.5zM1545.9 497.5v-8.6h1.20v8.6zM1546.9 497.5v-11.1h1.20v11.1zM1547.9 497.5v-8.0h1.20v8.0zM1548.9 497.5v-14.2h1.20v14.2zM1549.9 497.5v-13.3h1.20v13.3zM1550.9 497.5v-6.1h1.20v6.1zM1551.9 497.5v-14.0h1.20v14.0zM1552.9 497.5v-11.0h1.20v11.0zM1553.9 497.5v-13.3h1.20v13.3zM1554.9 497.5v-21.0h1.20v21.0zM1555.9 497.5v-38.1h1.20v38.1zM1556.9 497.5v-24.2h1.20v24.2zM1557.9 497.5v-15.7h1.20v15.7zM1558.9 497.5v-26.1h1.20v26.1zM1559.9 497.5v-27.3h1.20v27.3zM1560.9 497.5v-27.1h1.20v27.1zM1561.9 497.5v-9.2h1.20v9.2zM1562.9 497.5v-17.7h1.20v17.7zM1563.9 497.5v-10.4h1.20v10.4zM1564.9 497.5v-9.0h1.20v9.0zM1565.9 497.5v-13.8h1.20v13.8zM1566.9 497.5v-12.2h1.20v12.2zM1567.9 497.5v-9.4h1.20v9.4zM1568.9 497.5v-9.8h1.20v9.8zM1569.9 497.5v-9.8h1.20v9.8zM1570.9 497.5v-10.0h1.20v10.0zM1571.9 497.5v-13.3h1.20v13.3zM1572.9 497.5v-7.3h1.20v7.3zM1573.9 497.5v-3.9h1.20v3.9zM1574.9 497.5v-5.9h1.20v5.9zM1575.9 497.5v-10.3h1.20v10.3zM1576.9 497.5v-9.9h1.20v9.9zM1577.9 497.5v-8.8h1.20v8.8zM1578.9 497.5v-6.3h1.20v6.3zM1579.9 497.5v-12.0h1.20v12.0zM1580.9 497.5v-10.9h1.20v10.9zM1581.9 497.5v-17.7h1.20v17.7zM1582.9 497.5v-10.6h1.20v10.6zM1583.9 497.5v-15.5h1.20v15.5zM1584.9 497.5v-18.4h1.20v18.4zM1585.9 497.5v-13.0h1.20v13.0zM1586.9 497.5v-14.4h1.20v14.4zM1587.9 497.5v-15.0h1.20v15.0zM1588.9 497.5v-16.2h1.20v16.2zM1589.9 497.5v-11.5h1.20v11.5zM1590.9 497.5v-19.2h1.20v19.2zM1591.9 497.5v-19.7h1.20v19.7zM1592.9 497.5v-14.9h1.20v14.9zM1593.9 497.5v-9.8h1.20v9.8zM1594.9 497.5v-7.8h1.20v7.8zM1595.9 497.5v-3.9h1.20v3.9zM1596.9 497.5v-4.0h1.20v4.0zM1597.9 497.5v-3.7h1.20v3.7zM1598.9 497.5v-3.5h1.20v3.5zM1599.9 497.5v-3.6h1.20v3.6zM1600.9 497.5v-5.1h1.20v5.1zM1601.9 497.5v-3.8h1.20v3.8zM1602.9 497.5v-2.8h1.20v2.8zM1603.9 497.5v-2.4h1.20v2.4zM1604.9 497.5v-1.8h1.20v1.8zM1605.9 497.5v-1.8h1.20v1.8zM1608.9 497.5v-2.8h1.20v2.8zM1609.9 497.5v-7.0h1.20v7.0zM1610.9 497.5v-5.2h1.20v5.2zM1611.9 497.5v-10.2h1.20v10.2zM1612.9 497.5v-9.0h1.20v9.0zM1613.9 497.5v-8.5h1.20v8.5zM1614.9 497.5v-11.6h1.20v11.6zM1615.9 497.5v-18.0h1.20v18.0zM1616.9 497.5v-14.7h1.20v14.7zM1617.9 497.5v-13.2h1.20v13.2zM1618.9 497.5v-13.9h1.20v13.9zM1619.9 497.5v-19.1h1.20v19.1zM1620.9 497.5v-12.3h1.20v12.3zM1621.9 497.5v-10.8h1.20v10.8zM1622.9 497.5v-6.4h1.20v6.4zM1623.9 497.5v-11.8h1.20v11.8zM1624.9 497.5v-11.9h1.20v11.9zM1625.9 497.5v-17.1h1.20v17.1zM1626.9 497.5v-17.3h1.20v17.3zM1627.9 497.5v-22.8h1.20v22.8zM1628.9 497.5v-17.3h1.20v17.3zM1629.9 497.5v-21.1h1.20v21.1zM1630.9 497.5v-14.1h1.20v14.1zM1631.9 497.5v-7.9h1.20v7.9zM1632.9 497.5v-11.7h1.20v11.7zM1633.9 497.5v-9.7h1.20v9.7zM1634.9 497.5v-26.1h1.20v26.1zM1635.9 497.5v-39.6h1.20v39.6zM1636.9 497.5v-32.1h1.20v32.1zM1637.9 497.5v-39.1h1.20v39.1zM1638.9 497.5v-35.4h1.20v35.4zM1639.9 497.5v-29.6h1.20v29.6zM1640.9 497.5v-33.3h1.20v33.3zM1641.9 497.5v-28.6h1.20v28.6zM1642.9 497.5v-29.1h1.20v29.1zM1643.9 497.5v-27.6h1.20v27.6zM1644.9 497.5v-38.7h1.20v38.7zM1645.9 497.5v-30.9h1.20v30.9zM1646.9 497.5v-15.6h1.20v15.6zM1647.9 497.5v-28.9h1.20v28.9zM1648.9 497.5v-31.8h1.20v31.8zM1649.9 497.5v-32.8h1.20v32.8zM1650.9 497.5v-31.6h1.20v31.6zM1651.9 497.5v-27.0h1.20v27.0zM1652.9 497.5v-27.1h1.20v27.1zM1653.9 497.5v-28.7h1.20v28.7zM1654.9 497.5v-18.3h1.20v18.3zM1655.9 497.5v-21.2h1.20v21.2zM1656.9 497.5v-16.5h1.20v16.5zM1657.9 497.5v-21.6h1.20v21.6zM1658.9 497.5v-8.9h1.20v8.9zM1659.9 497.5v-25.6h1.20v25.6zM1660.9 497.5v-23.9h1.20v23.9zM1661.9 497.5v-23.3h1.20v23.3zM1662.9 497.5v-18.6h1.20v18.6zM1663.9 497.5v-21.0h1.20v21.0zM1664.9 497.5v-18.5h1.20v18.5zM1665.9 497.5v-8.3h1.20v8.3zM1666.9 497.5v-11.3h1.20v11.3zM1667.9 497.5v-6.7h1.20v6.7zM1668.9 497.5v-20.1h1.20v20.1zM1669.9 497.5v-9.5h1.20v9.5zM1670.9 497.5v-20.1h1.20v20.1zM1671.9 497.5v-18.5h1.20v18.5zM1672.9 497.5v-14.8h1.20v14.8zM1673.9 497.5v-13.7h1.20v13.7zM1674.9 497.5v-13.7h1.20v13.7zM1675.9 497.5v-16.4h1.20v16.4zM1676.9 497.5v-13.4h1.20v13.4zM1677.9 497.5v-8.5h1.20v8.5zM1678.9 497.5v-10.5h1.20v10.5zM1679.9 497.5v-7.8h1.20v7.8zM1680.9 497.5v-11.2h1.20v11.2zM1681.9 497.5v-11.5h1.20v11.5zM1682.9 497.5v-12.0h1.20v12.0zM1683.9 497.5v-10.9h1.20v10.9zM1684.9 497.5v-13.2h1.20v13.2zM1685.9 497.5v-15.3h1.20v15.3zM1686.9 497.5v-14.5h1.20v14.5zM1687.9 497.5v-10.8h1.20v10.8zM1688.9 497.5v-13.0h1.20v13.0zM1689.9 497.5v-8.2h1.20v8.2zM1690.9 497.5v-0.6h1.20v0.6zM1691.9 497.5v-0.6h1.20v0.6zM1692.9 497.5v-4.1h1.20v4.1zM1693.9 497.5v-7.7h1.20v7.7zM1694.9 497.5v-5.5h1.20v5.5zM1695.9 497.5v-4.6h1.20v4.6zM1696.9 497.5v-5.2h1.20v5.2zM1697.9 497.5v-5.2h1.20v5.2zM1698.9 497.5v-8.2h1.20v8.2zM1699.9 497.5v-6.7h1.20v6.7zM1700.9 497.5v-8.2h1.20v8.2zM1701.9 497.5v-3.1h1.20v3.1zM1702.9 497.5v-1.8h1.20v1.8zM1703.9 497.5v-7.2h1.20v7.2zM1704.9 497.5v-7.2h1.20v7.2zM1705.9 497.5v-13.6h1.20v13.6zM1706.9 497.5v-17.7h1.20v17.7zM1707.9 497.5v-12.8h1.20v12.8zM1708.9 497.5v-15.2h1.20v15.2zM1398.6 497.5v-21.9h1.30v21.9zM1410.9 497.5v-32.3h1.30v32.3zM1436.1 497.5v-18.2h1.30v18.2zM1450.9 497.5v-41.1h1.30v41.1zM1457.3 497.5v-63.5h1.30v63.5zM1468.5 497.5v-47.2h1.30v47.2zM1477.0 497.5v-61.9h1.30v61.9zM1483.8 497.5v-92.0h1.30v92.0zM1488.9 497.5v-36.0h1.30v36.0zM1511.3 497.5v-121.9h1.30v121.9zM1513.8 497.5v-139.5h1.30v139.5zM1517.7 497.5v-154.7h1.30v154.7zM1527.6 497.5v-101.1h1.30v101.1zM1533.8 497.5v-34.7h1.30v34.7zM1542.5 497.5v-27.2h1.30v27.2zM1552.2 497.5v-39.8h1.30v39.8zM1554.9 497.5v-39.5h1.30v39.5zM1559.9 497.5v-39.8h1.30v39.8zM1570.1 497.5v-25.1h1.30v25.1zM1572.5 497.5v-45.9h1.30v45.9zM1585.8 497.5v-28.3h1.30v28.3zM1592.5 497.5v-34.7h1.30v34.7zM1598.6 497.5v-12.3h1.30v12.3zM1603.4 497.5v-12.3h1.30v12.3zM1623.8 497.5v-27.0h1.30v27.0zM1630.9 497.5v-27.2h1.30v27.2zM1637.5 497.5v-73.1h1.30v73.1zM1640.1 497.5v-57.1h1.30v57.1zM1643.8 497.5v-52.3h1.30v52.3zM1648.7 497.5v-124.6h1.30v124.6zM1671.3 497.5v-52.3h1.30v52.3zM1676.1 497.5v-21.1h1.30v21.1zM1690.0 497.5v-29.6h1.30v29.6zM1710.0 497.5v-9.1h1.20v9.1zM1711.0 497.5v-7.5h1.20v7.5zM1712.0 497.5v-6.1h1.20v6.1zM1713.0 497.5v-11.3h1.20v11.3zM1714.0 497.5v-7.4h1.20v7.4zM1715.0 497.5v-4.2h1.20v4.2zM1716.0 497.5v-4.4h1.20v4.4zM1717.0 497.5v-4.9h1.20v4.9zM1718.0 497.5v-4.6h1.20v4.6zM1719.0 497.5v-5.0h1.20v5.0zM1720.0 497.5v-3.7h1.20v3.7zM1721.0 497.5v-1.8h1.20v1.8zM1722.0 497.5v-0.5h1.20v0.5zM1723.0 497.5v-0.6h1.20v0.6zM1724.0 497.5v-8.5h1.20v8.5zM1725.0 497.5v-11.0h1.20v11.0zM1726.0 497.5v-22.8h1.20v22.8zM1727.0 497.5v-15.2h1.20v15.2zM1728.0 497.5v-11.5h1.20v11.5zM1729.0 497.5v-12.6h1.20v12.6zM1730.0 497.5v-11.8h1.20v11.8zM1731.0 497.5v-13.0h1.20v13.0zM1732.0 497.5v-11.6h1.20v11.6zM1733.0 497.5v-9.1h1.20v9.1zM1734.0 497.5v-8.9h1.20v8.9zM1735.0 497.5v-5.6h1.20v5.6zM1736.0 497.5v-3.6h1.20v3.6zM1737.0 497.5v-1.6h1.20v1.6zM1740.0 497.5v-2.1h1.20v2.1zM1741.0 497.5v-3.8h1.20v3.8zM1742.0 497.5v-4.6h1.20v4.6zM1743.0 497.5v-2.1h1.20v2.1zM1744.0 497.5v-4.5h1.20v4.5zM1745.0 497.5v-3.2h1.20v3.2zM1746.0 497.5v-1.4h1.20v1.4zM1748.0 497.5v-0.6h1.20v0.6zM1749.0 497.5v-1.1h1.20v1.1zM1750.0 497.5v-16.9h1.20v16.9zM1751.0 497.5v-11.3h1.20v11.3zM1752.0 497.5v-13.8h1.20v13.8zM1753.0 497.5v-13.9h1.20v13.9zM1754.0 497.5v-14.4h1.20v14.4zM1755.0 497.5v-16.2h1.20v16.2zM1756.0 497.5v-17.9h1.20v17.9zM1757.0 497.5v-15.8h1.20v15.8zM1758.0 497.5v-16.6h1.20v16.6zM1759.0 497.5v-17.7h1.20v17.7zM1760.0 497.5v-22.3h1.20v22.3zM1761.0 497.5v-23.5h1.20v23.5zM1762.0 497.5v-21.5h1.20v21.5zM1763.0 497.5v-17.7h1.20v17.7zM1764.0 497.5v-17.7h1.20v17.7zM1765.0 497.5v-14.2h1.20v14.2zM1766.0 497.5v-10.0h1.20v10.0zM1767.0 497.5v-8.8h1.20v8.8zM1768.0 497.5v-15.0h1.20v15.0zM1769.0 497.5v-18.1h1.20v18.1zM1770.0 497.5v-15.1h1.20v15.1zM1771.0 497.5v-19.8h1.20v19.8zM1772.0 497.5v-13.4h1.20v13.4zM1773.0 497.5v-5.3h1.20v5.3zM1774.0 497.5v-10.3h1.20v10.3zM1775.0 497.5v-11.6h1.20v11.6zM1776.0 497.5v-13.7h1.20v13.7zM1777.0 497.5v-23.4h1.20v23.4zM1778.0 497.5v-17.1h1.20v17.1zM1779.0 497.5v-15.0h1.20v15.0zM1780.0 497.5v-12.9h1.20v12.9zM1781.0 497.5v-16.2h1.20v16.2zM1782.0 497.5v-18.1h1.20v18.1zM1783.0 497.5v-17.8h1.20v17.8zM1784.0 497.5v-10.9h1.20v10.9zM1785.0 497.5v-11.4h1.20v11.4zM1786.0 497.5v-15.9h1.20v15.9zM1787.0 497.5v-12.3h1.20v12.3zM1788.0 497.5v-10.3h1.20v10.3zM1789.0 497.5v-8.0h1.20v8.0zM1790.0 497.5v-11.7h1.20v11.7zM1791.0 497.5v-10.2h1.20v10.2zM1792.0 497.5v-8.6h1.20v8.6zM1793.0 497.5v-3.4h1.20v3.4zM1795.0 497.5v-5.5h1.20v5.5zM1796.0 497.5v-10.9h1.20v10.9zM1797.0 497.5v-16.8h1.20v16.8zM1798.0 497.5v-17.0h1.20v17.0zM1799.0 497.5v-12.5h1.20v12.5zM1800.0 497.5v-8.1h1.20v8.1zM1801.0 497.5v-9.4h1.20v9.4zM1802.0 497.5v-8.9h1.20v8.9zM1803.0 497.5v-6.9h1.20v6.9zM1804.0 497.5v-7.3h1.20v7.3zM1805.0 497.5v-7.2h1.20v7.2zM1806.0 497.5v-9.9h1.20v9.9zM1807.0 497.5v-16.9h1.20v16.9zM1808.0 497.5v-12.2h1.20v12.2zM1809.0 497.5v-12.5h1.20v12.5zM1810.0 497.5v-15.1h1.20v15.1zM1811.0 497.5v-13.8h1.20v13.8zM1812.0 497.5v-14.5h1.20v14.5zM1813.0 497.5v-12.3h1.20v12.3zM1814.0 497.5v-8.9h1.20v8.9zM1815.0 497.5v-10.2h1.20v10.2zM1816.0 497.5v-11.3h1.20v11.3zM1817.0 497.5v-15.4h1.20v15.4zM1818.0 497.5v-18.8h1.20v18.8zM1819.0 497.5v-12.8h1.20v12.8zM1820.0 497.5v-8.1h1.20v8.1zM1821.0 497.5v-9.4h1.20v9.4zM1822.0 497.5v-4.5h1.20v4.5zM1823.0 497.5v-5.4h1.20v5.4zM1824.0 497.5v-3.3h1.20v3.3zM1825.0 497.5v-3.8h1.20v3.8zM1826.0 497.5v-3.3h1.20v3.3zM1827.0 497.5v-4.1h1.20v4.1zM1828.0 497.5v-7.3h1.20v7.3zM1829.0 497.5v-4.3h1.20v4.3zM1830.0 497.5v-4.5h1.20v4.5zM1831.0 497.5v-5.8h1.20v5.8zM1832.0 497.5v-7.3h1.20v7.3zM1833.0 497.5v-12.9h1.20v12.9zM1834.0 497.5v-12.4h1.20v12.4zM1835.0 497.5v-11.6h1.20v11.6zM1836.0 497.5v-10.5h1.20v10.5zM1837.0 497.5v-11.5h1.20v11.5zM1838.0 497.5v-13.0h1.20v13.0zM1839.0 497.5v-13.4h1.20v13.4zM1840.0 497.5v-11.7h1.20v11.7zM1841.0 497.5v-12.2h1.20v12.2zM1842.0 497.5v-17.3h1.20v17.3zM1843.0 497.5v-12.3h1.20v12.3zM1844.0 497.5v-12.3h1.20v12.3zM1845.0 497.5v-14.6h1.20v14.6zM1846.0 497.5v-11.9h1.20v11.9zM1847.0 497.5v-9.1h1.20v9.1zM1848.0 497.5v-7.8h1.20v7.8zM1849.0 497.5v-5.8h1.20v5.8zM1850.0 497.5v-13.5h1.20v13.5zM1851.0 497.5v-10.7h1.20v10.7zM1852.0 497.5v-12.2h1.20v12.2zM1853.0 497.5v-12.7h1.20v12.7zM1854.0 497.5v-12.5h1.20v12.5zM1855.0 497.5v-9.2h1.20v9.2zM1856.0 497.5v-3.3h1.20v3.3zM1864.0 497.5v-0.6h1.20v0.6zM1865.0 497.5v-3.0h1.02v3.0zM1866.0 497.5v-4.3h0.02v4.3zM1730.9 497.5v-21.1h1.30v21.1zM1739.8 497.5v-13.1h1.30v13.1zM1743.7 497.5v-12.0h1.30v12.0zM1757.3 497.5v-30.9h1.30v30.9zM1775.8 497.5v-28.3h1.30v28.3zM1781.4 497.5v-34.7h1.30v34.7zM1804.0 497.5v-29.9h1.30v29.9zM1819.8 497.5v-17.1h1.30v17.1zM1857.8 497.5v-8.3h1.30v8.3zM1048.7 497.5v-7.0h1.20v7.0zM1049.7 497.5v-16.0h1.20v16.0zM1050.7 497.5v-13.3h1.20v13.3zM1051.7 497.5v-11.1h1.20v11.1zM1052.7 497.5v-23.5h1.20v23.5zM1053.7 497.5v-27.1h1.20v27.1zM1054.7 497.5v-16.9h1.20v16.9zM1055.7 497.5v-15.0h1.20v15.0zM1056.7 497.5v-11.0h1.20v11.0zM1057.7 497.5v-14.1h1.20v14.1zM1058.7 497.5v-17.4h1.20v17.4zM1059.7 497.5v-30.7h1.20v30.7zM1060.7 497.5v-23.8h1.20v23.8zM1061.7 497.5v-28.9h1.20v28.9zM1062.7 497.5v-24.5h1.20v24.5zM1063.7 497.5v-34.8h1.20v34.8zM1064.7 497.5v-24.5h1.20v24.5zM1065.7 497.5v-26.8h1.20v26.8zM1066.7 497.5v-31.8h1.20v31.8zM1067.7 497.5v-48.6h1.20v48.6zM1068.7 497.5v-42.0h1.20v42.0zM1069.7 497.5v-39.0h1.20v39.0zM1016.9 497.5v-12.5h1.30v12.5zM1020.1 497.5v-14.1h1.30v14.1zM1021.4 497.5v-4.5h1.30v4.5zM1024.5 497.5v-6.1h1.30v6.1zM1027.8 497.5v-15.7h1.30v15.7zM1033.8 497.5v-6.9h1.30v6.9zM1039.8 497.5v-7.7h1.30v7.7zM1041.3 497.5v-9.3h1.30v9.3zM1066.1 497.5v-57.3h1.30v57.3zM1110.0 497.5v-20.2h1.10v20.2zM1111.0 497.5v-18.4h1.10v18.4zM1112.0 497.5v-8.5h1.10v8.5zM1114.0 497.5v-11.7h1.10v11.7zM1115.0 497.5v-12.5h1.10v12.5zM1116.0 497.5v-6.7h1.10v6.7zM1117.0 497.5v-11.9h1.10v11.9zM1118.0 497.5v-9.4h1.10v9.4zM1119.0 497.5v-8.8h1.10v8.8zM1120.0 497.5v-12.6h1.10v12.6zM1121.0 497.5v-9.3h1.10v9.3zM1122.0 497.5v-9.7h1.10v9.7zM1123.0 497.5v-13.6h1.10v13.6zM1124.0 497.5v-16.5h1.10v16.5zM1125.0 497.5v-10.8h1.10v10.8zM1126.0 497.5v-10.6h1.10v10.6zM1127.0 497.5v-14.7h1.10v14.7zM1128.0 497.5v-15.9h1.10v15.9zM1129.0 497.5v-13.8h1.10v13.8zM1130.0 497.5v-6.1h1.10v6.1zM1131.0 497.5v-1.9h1.10v1.9zM1134.0 497.5v-8.7h1.10v8.7zM1135.0 497.5v-10.2h1.10v10.2zM1139.0 497.5v-2.4h1.10v2.4zM1140.0 497.5v-3.0h1.10v3.0zM1141.0 497.5v-1.3h1.10v1.3zM1142.0 497.5v-2.0h1.10v2.0zM1143.0 497.5v-0.9h1.10v0.9zM1145.0 497.5v-10.8h1.10v10.8zM1146.0 497.5v-15.1h1.10v15.1zM1147.0 497.5v-14.5h1.10v14.5zM1148.0 497.5v-11.5h1.10v11.5zM1149.0 497.5v-9.2h1.10v9.2zM1150.0 497.5v-4.2h1.10v4.2zM1151.0 497.5v-3.2h1.10v3.2zM1152.0 497.5v-5.0h1.10v5.0zM1153.0 497.5v-5.2h1.10v5.2zM1155.0 497.5v-10.6h1.10v10.6zM1156.0 497.5v-10.4h1.10v10.4zM1157.0 497.5v-10.0h1.10v10.0zM1158.0 497.5v-4.5h1.10v4.5zM1159.0 497.5v-4.2h1.10v4.2zM1161.0 497.5v-3.1h1.10v3.1zM1162.0 497.5v-4.3h1.10v4.3zM1163.0 497.5v-5.3h1.10v5.3zM1164.0 497.5v-5.6h1.10v5.6zM1165.0 497.5v-6.7h1.10v6.7zM1166.0 497.5v-11.3h1.10v11.3zM1167.0 497.5v-15.0h1.10v15.0zM1168.0 497.5v-15.9h1.10v15.9zM1169.0 497.5v-12.2h1.10v12.2zM1170.0 497.5v-14.2h1.10v14.2zM1171.0 497.5v-16.0h1.10v16.0zM1172.0 497.5v-16.0h1.10v16.0zM1173.0 497.5v-7.2h1.10v7.2zM1174.0 497.5v-5.8h1.10v5.8zM1175.0 497.5v-4.7h1.10v4.7zM1176.0 497.5v-3.4h1.10v3.4zM1177.0 497.5v-2.1h1.10v2.1zM1178.0 497.5v-5.4h1.10v5.4zM1179.0 497.5v-5.6h1.10v5.6zM1180.0 497.5v-4.9h1.10v4.9zM1181.0 497.5v-6.2h1.10v6.2zM1182.0 497.5v-12.6h1.10v12.6zM1183.0 497.5v-13.5h1.10v13.5zM1184.0 497.5v-16.9h1.10v16.9zM1185.0 497.5v-17.2h1.10v17.2zM1186.0 497.5v-16.2h1.10v16.2zM1187.0 497.5v-11.5h1.10v11.5zM1188.0 497.5v-8.0h1.10v8.0zM1189.0 497.5v-6.7h1.10v6.7zM1193.0 497.5v-6.0h1.10v6.0zM1194.0 497.5v-14.8h1.10v14.8zM1195.0 497.5v-12.6h1.10v12.6zM1196.0 497.5v-8.9h1.10v8.9zM1197.0 497.5v-6.9h1.10v6.9zM1198.0 497.5v-11.2h1.10v11.2zM1199.0 497.5v-12.9h1.10v12.9zM1200.0 497.5v-6.5h1.10v6.5zM1201.0 497.5v-4.5h1.10v4.5zM1202.0 497.5v-10.3h1.10v10.3zM1203.0 497.5v-10.2h1.10v10.2zM1204.0 497.5v-5.6h1.10v5.6zM1205.0 497.5v-2.0h1.10v2.0zM1208.0 497.5v-0.4h1.10v0.4zM1209.0 497.5v-1.4h1.10v1.4zM1210.0 497.5v-3.2h1.10v3.2zM1211.0 497.5v-4.4h1.10v4.4zM1212.0 497.5v-4.1h1.10v4.1zM1213.0 497.5v-1.4h1.10v1.4zM1215.0 497.5v-9.2h1.10v9.2zM1216.0 497.5v-8.9h1.10v8.9zM1217.0 497.5v-5.6h1.10v5.6zM1218.0 497.5v-5.1h1.10v5.1zM1219.0 497.5v-4.2h1.10v4.2zM1220.0 497.5v-6.6h1.10v6.6zM1221.0 497.5v-8.7h1.10v8.7zM1222.0 497.5v-13.7h1.10v13.7zM1223.0 497.5v-14.5h1.10v14.5zM1224.0 497.5v-11.6h1.10v11.6zM1225.0 497.5v-10.1h1.10v10.1zM1226.0 497.5v-10.1h1.10v10.1zM1227.0 497.5v-14.2h1.10v14.2zM1228.0 497.5v-14.0h1.10v14.0zM1229.0 497.5v-4.9h1.10v4.9zM1230.0 497.5v-4.1h1.10v4.1zM1231.0 497.5v-3.9h1.10v3.9zM1232.0 497.5v-7.4h1.10v7.4zM1233.0 497.5v-12.9h1.10v12.9zM1234.0 497.5v-12.7h1.10v12.7zM1235.0 497.5v-10.7h1.10v10.7zM1236.0 497.5v-10.5h1.10v10.5zM1237.0 497.5v-4.8h1.10v4.8zM1238.0 497.5v-3.3h1.10v3.3zM1240.0 497.5v-0.5h1.10v0.5zM1245.0 497.5v-0.8h1.10v0.8zM1249.0 497.5v-12.6h1.10v12.6zM1250.0 497.5v-11.5h1.10v11.5zM1255.0 497.5v-1.0h1.10v1.0zM1256.0 497.5v-1.5h1.10v1.5zM1257.0 497.5v-5.6h1.10v5.6zM1258.0 497.5v-8.0h1.10v8.0zM1259.0 497.5v-7.8h1.10v7.8zM1260.0 497.5v-3.8h1.10v3.8zM1261.0 497.5v-5.9h1.10v5.9zM1262.0 497.5v-6.1h1.10v6.1zM1263.0 497.5v-2.0h1.10v2.0zM1264.0 497.5v-3.0h1.10v3.0zM1265.0 497.5v-2.3h1.10v2.3zM1266.0 497.5v-6.9h1.10v6.9zM1267.0 497.5v-8.2h1.10v8.2zM1268.0 497.5v-8.4h1.10v8.4zM1269.0 497.5v-7.6h1.10v7.6zM943.4 497.5v-88.0h1.20v88.0zM944.4 497.5v-107.0h1.20v107.0zM945.4 497.5v-124.8h1.20v124.8zM946.4 497.5v-151.6h1.20v151.6zM947.4 497.5v-163.6h1.20v163.6zM948.4 497.5v-163.9h1.20v163.9zM949.4 497.5v-160.0h1.20v160.0zM950.4 497.5v-160.3h1.20v160.3zM951.4 497.5v-157.3h1.20v157.3zM952.4 497.5v-150.6h1.20v150.6zM953.4 497.5v-142.6h1.20v142.6zM954.4 497.5v-122.8h1.20v122.8zM955.4 497.5v-116.5h1.20v116.5zM956.4 497.5v-68.7h1.20v68.7zM957.4 497.5v-20.3h1.20v20.3zM960.4 497.5v-77.2h1.20v77.2zM961.4 497.5v-104.1h1.20v104.1zM962.4 497.5v-106.7h1.20v106.7zM963.4 497.5v-114.5h1.20v114.5zM964.4 497.5v-136.4h1.20v136.4zM965.4 497.5v-168.1h1.20v168.1zM966.4 497.5v-197.2h1.20v197.2zM967.4 497.5v-193.1h1.20v193.1zM968.4 497.5v-201.3h1.20v201.3zM969.4 497.5v-198.4h1.20v198.4zM970.4 497.5v-190.9h1.20v190.9zM971.4 497.5v-176.8h1.20v176.8zM972.4 497.5v-161.8h1.20v161.8zM973.4 497.5v-149.4h1.20v149.4zM974.4 497.5v-46.5h1.20v46.5zM975.4 497.5v-44.6h1.20v44.6zM976.4 497.5v-17.3h1.20v17.3zM977.4 497.5v-37.4h1.20v37.4zM978.4 497.5v-55.7h1.20v55.7zM979.4 497.5v-101.8h1.20v101.8zM980.4 497.5v-151.2h1.20v151.2zM981.4 497.5v-172.1h1.20v172.1zM982.4 497.5v-171.6h1.20v171.6zM983.4 497.5v-88.8h1.20v88.8zM984.4 497.5v-70.2h1.20v70.2zM985.4 497.5v-63.2h1.20v63.2zM986.4 497.5v-58.6h1.20v58.6zM987.4 497.5v-53.3h1.20v53.3zM988.4 497.5v-34.2h1.20v34.2zM989.4 497.5v-132.0h1.20v132.0zM990.4 497.5v-164.7h1.20v164.7zM991.4 497.5v-161.6h1.20v161.6zM992.4 497.5v-160.1h1.20v160.1zM993.4 497.5v-176.6h1.20v176.6zM994.4 497.5v-178.4h1.20v178.4zM995.4 497.5v-185.9h1.20v185.9zM996.4 497.5v-185.8h1.20v185.8zM997.4 497.5v-185.9h1.20v185.9zM998.4 497.5v-157.8h1.20v157.8zM999.4 497.5v-59.7h1.20v59.7zM1000.4 497.5v-23.6h1.20v23.6zM1001.4 497.5v-36.8h1.20v36.8zM1002.4 497.5v-24.4h1.20v24.4zM1003.4 497.5v-17.4h1.20v17.4zM1004.4 497.5v-18.4h1.20v18.4zM1005.4 497.5v-43.5h1.20v43.5zM1006.4 497.5v-60.6h1.20v60.6zM1007.4 497.5v-29.5h1.20v29.5zM1008.4 497.5v-43.9h1.20v43.9zM1009.4 497.5v-58.7h1.20v58.7zM1010.4 497.5v-66.8h1.20v66.8zM1011.4 497.5v-44.7h1.20v44.7zM1012.4 497.5v-36.2h1.20v36.2zM1013.4 497.5v-26.4h1.20v26.4zM119.9 497.5v-12.8h1.20v12.8zM120.9 497.5v-12.2h1.20v12.2zM121.9 497.5v-11.2h1.20v11.2zM122.9 497.5v-10.5h1.20v10.5zM123.9 497.5v-9.3h1.20v9.3zM124.9 497.5v-45.0h1.20v45.0zM125.9 497.5v-46.7h1.20v46.7zM126.9 497.5v-40.4h1.20v40.4zM127.9 497.5v-30.2h1.20v30.2zM128.9 497.5v-22.5h1.20v22.5zM129.9 497.5v-6.3h1.20v6.3zM130.9 497.5v-6.0h1.20v6.0zM131.9 497.5v-5.5h1.20v5.5zM132.9 497.5v-189.1h1.20v189.1zM133.9 497.5v-191.3h1.20v191.3zM134.9 497.5v-189.1h1.20v189.1zM135.9 497.5v-48.6h1.20v48.6zM136.9 497.5v-48.9h1.20v48.9zM137.9 497.5v-48.7h1.20v48.7zM138.9 497.5v-44.9h1.20v44.9zM139.9 497.5v-19.3h1.20v19.3zM140.9 497.5v-25.2h1.20v25.2zM141.9 497.5v-17.1h1.20v17.1zM142.9 497.5v-7.5h1.20v7.5zM126.1 497.5v-157.5h1.30v157.5zM132.5 497.5v-301.5h1.30v301.5zM134.9 497.5v-284.5h1.30v284.5zM133.5 497.5v-191.5h1.30v191.5zM134.2 497.5v-191.5h1.30v191.5zM661.4 497.5v-147.1h1.30v147.1zM673.8 497.5v-185.9h1.30v185.9zM676.4 497.5v-175.9h1.30v175.9zM944.8 497.5v-159.9h1.30v159.9zM949.8 497.5v-179.9h1.30v179.9zM952.4 497.5v-219.7h1.30v219.7zM956.4 497.5v-163.5h1.30v163.5zM958.6 497.5v-63.7h1.30v63.7zM966.2 497.5v-291.3h1.30v291.3zM969.9 497.5v-276.1h1.30v276.1zM969.0 497.5v-232.1h1.30v232.1zM982.1 497.5v-190.5h1.30v190.5zM991.0 497.5v-202.5h1.30v202.5zM993.4 497.5v-191.5h1.30v191.5zM994.1 497.5v-200.5h1.30v200.5zM995.0 497.5v-236.1h1.30v236.1zM1008.6 497.5v-77.0h1.30v77.0z" fill="#16995f"/>
<line x1="120" x2="1866" y1="497.8" y2="497.8" stroke="#d0cce8" stroke-width="1" stroke-dasharray="5.5 6"/>
<path d="M119.9 978.8 L120.9 985.2 L122.8 983.6 L124.7 978.0 L125.7 958.8 L127.6 955.6 L128.9 946.8 L131.6 944.4 L132.7 922.0 L134.0 917.2 L134.8 906.0 L136.1 906.0 L137.5 938.8 L138.8 926.8 L139.8 933.2 L141.2 925.2 L142.5 918.0 L143.9 926.8 L144.9 930.8 L146.8 926.8 L149.7 922.8 L151.9 927.6 L156.1 927.9 L157.5 954.8 L158.8 943.6 L160.6 942.0 L162.8 943.6 L164.1 947.6 L166.8 944.4 L169.5 946.8 L172.4 946.5 L174.0 938.0 L175.9 934.0 L178.0 937.7 L180.4 938.5 L182.3 941.2 L185.2 938.8 L188.4 937.2 L190.8 935.6 L191.9 931.3 L194.0 931.6 L196.1 933.5 L197.7 928.4 L199.0 926.5 L200.6 918.8 L202.3 909.5 L203.3 918.8 L205.7 915.9 L207.9 918.0 L210.0 911.6 L211.1 910.0 L213.2 911.6 L215.0 913.2 L217.5 906.0 L219.1 907.3 L222.0 904.7 L223.9 904.1 L225.8 901.2 L227.8 882.0 L228.7 882.8 L230.0 872.4 L231.3 874.0 L233.2 866.0 L233.5 850.8 L233.8 866.0 L234.6 883.6 L235.8 881.2 L236.7 902.0 L238.3 896.4 L239.9 884.4 L241.2 882.8 L242.2 879.6 L243.4 886.0 L244.7 881.2 L246.0 880.4 L247.3 870.8 L248.6 866.0 L250.0 862.5 L251.1 870.8 L252.9 869.2 L254.5 866.0 L255.9 860.4 L257.5 851.6 L258.0 845.6 L259.6 844.8 L261.7 833.6 L263.3 834.4 L265.2 853.6 L266.5 839.2 L267.8 837.6 L269.2 872.3 L270.3 854.7 L271.9 879.0 L273.5 865.9 L274.5 864.3 L276.4 856.3 L277.2 848.8 L279.0 844.0 L280.9 840.0 L282.5 846.4 L284.4 840.0 L286.0 833.6 L287.3 832.8 L288.4 827.2 L289.5 820.8 L291.1 814.4 L292.1 807.2 L293.7 808.0 L294.8 794.4 L295.9 784.8 L297.2 790.4 L298.5 784.8 L300.1 771.2 L301.2 764.8 L302.0 746.4 L303.3 771.2 L304.2 758.4 L305.2 756.8 L306.8 740.8 L308.1 723.2 L309.0 729.6 L310.6 719.2 L311.6 732.8 L312.7 746.4 L314.0 732.8 L315.1 730.4 L316.4 734.4 L318.0 746.4 L319.0 740.0 L320.2 745.6 L321.5 737.6 L322.8 736.0 L324.1 738.4 L325.7 748.8 L327.0 755.2 L327.9 777.6 L328.9 755.2 L329.8 723.2 L330.8 724.0 L332.7 739.2 L334.0 724.8 L335.0 723.2 L335.9 729.6 L336.9 721.6 L337.8 704.8 L339.1 699.2 L340.1 696.8 L341.2 683.2 L341.9 665.2 L343.2 663.6 L345.6 675.6 L347.2 665.2 L348.8 663.6 L350.9 647.6 L352.0 661.2 L353.6 655.6 L355.2 665.2 L356.3 670.0 L357.3 690.8 L357.9 704.4 L358.6 690.8 L359.2 673.2 L360.5 690.0 L362.1 679.6 L363.7 670.0 L365.6 663.6 L366.9 667.6 L368.5 657.2 L369.8 650.8 L371.4 623.6 L372.8 629.2 L374.6 620.4 L375.5 619.6 L376.8 630.0 L378.1 622.0 L379.7 615.6 L380.8 604.4 L381.9 591.6 L383.5 590.0 L385.1 606.0 L386.4 622.8 L387.7 599.6 L389.0 582.0 L390.6 575.6 L391.5 578.8 L392.8 562.8 L394.1 550.0 L395.4 547.6 L396.5 537.2 L397.6 526.0 L398.2 497.6 L398.6 473.6 L399.2 492.8 L400.0 484.8 L400.8 472.0 L401.6 471.2 L402.4 466.4 L403.2 456.4 L403.8 460.8 L404.4 472.0 L405.0 484.8 L405.6 504.0 L406.4 502.4 L407.2 484.8 L408.0 484.4 L408.6 496.0 L409.2 507.2 L409.8 516.8 L410.4 508.8 L411.2 491.2 L412.0 481.6 L412.8 472.8 L413.4 474.4 L414.1 484.8 L414.7 492.0 L415.4 508.0 L416.0 497.6 L416.6 504.0 L417.6 520.0 L418.4 532.4 L420.0 514.8 L421.0 535.6 L423.2 526.8 L424.5 535.6 L425.6 548.4 L426.7 561.2 L427.7 598.8 L429.0 580.4 L429.9 576.4 L431.2 569.2 L432.5 551.6 L433.8 536.4 L435.2 532.4 L436.3 546.8 L437.3 552.4 L438.9 541.2 L440.0 534.0 L441.1 529.2 L442.4 543.6 L443.7 556.4 L445.0 562.8 L445.9 569.2 L447.2 580.4 L448.5 566.0 L449.8 564.4 L451.0 570.8 L452.3 580.4 L453.6 590.0 L454.6 601.2 L455.5 590.0 L456.5 603.6 L457.3 605.2 L458.4 598.0 L459.4 588.4 L460.5 580.4 L461.9 574.0 L462.9 578.0 L464.2 565.2 L465.4 562.8 L466.4 554.0 L467.4 561.2 L468.6 556.4 L469.9 558.0 L471.2 550.0 L472.5 556.4 L473.8 562.0 L474.7 568.4 L476.0 570.8 L477.3 575.6 L478.6 570.8 L479.8 580.4 L481.1 588.4 L482.4 594.8 L483.7 588.4 L485.3 585.2 L486.6 584.4 L487.8 586.8 L488.8 599.6 L490.1 604.4 L490.7 611.6 L492.0 604.4 L493.3 602.8 L494.6 610.0 L495.5 617.2 L496.8 614.8 L497.8 622.0 L499.0 612.4 L500.3 606.0 L501.6 605.2 L502.6 602.8 L503.8 610.8 L505.1 614.0 L506.4 601.2 L507.7 590.0 L509.3 588.4 L510.6 572.4 L511.5 577.2 L512.8 574.8 L514.1 583.6 L515.4 590.8 L516.3 597.2 L517.6 606.0 L518.9 615.6 L520.5 614.0 L522.1 607.6 L523.4 612.4 L524.6 609.2 L525.9 602.8 L527.2 597.2 L528.8 596.4 L530.4 591.6 L531.4 599.6 L532.3 609.2 L533.3 614.0 L534.9 611.6 L536.5 609.2 L537.6 611.6 L538.7 606.0 L540.0 604.8 L541.9 604.0 L544.0 606.4 L546.4 605.6 L548.0 605.3 L549.3 614.4 L550.9 605.6 L552.8 606.4 L555.2 608.8 L556.8 608.5 L558.4 611.2 L560.5 608.8 L562.4 606.9 L564.0 609.6 L565.0 610.4 L565.9 621.6 L566.9 628.0 L568.0 629.6 L568.8 650.4 L569.8 660.0 L570.7 669.6 L571.4 683.2 L572.3 672.8 L573.3 666.4 L574.4 674.4 L575.5 683.2 L576.8 693.6 L578.1 690.4 L579.4 697.6 L580.6 706.4 L581.9 698.4 L582.9 684.0 L583.7 672.0 L584.8 674.4 L586.1 679.2 L587.0 690.4 L588.0 677.6 L589.0 684.0 L589.9 680.8 L591.2 673.6 L592.8 673.1 L593.8 684.8 L595.0 692.0 L596.3 688.0 L597.9 690.4 L599.2 688.8 L600.5 691.2 L601.8 690.4 L603.0 696.0 L604.3 692.8 L605.6 697.6 L606.9 698.4 L608.2 688.8 L609.4 686.4 L610.7 691.2 L612.0 688.8 L613.3 677.6 L614.4 674.4 L615.2 668.8 L616.2 680.8 L617.4 682.4 L618.7 680.8 L619.7 684.8 L621.0 680.8 L622.6 677.6 L623.8 678.4 L625.1 675.2 L626.4 672.8 L627.7 673.6 L629.0 675.2 L630.6 677.6 L631.8 672.8 L632.8 669.6 L633.8 647.2 L635.0 642.4 L636.3 636.8 L637.6 636.0 L638.9 642.4 L640.2 640.8 L641.8 640.0 L643.2 636.0 L644.5 631.2 L645.6 637.6 L647.2 635.2 L648.5 629.6 L649.8 620.0 L651.0 618.4 L652.3 607.2 L653.3 592.8 L654.2 580.0 L655.2 576.8 L656.2 591.2 L657.1 580.0 L658.1 583.2 L659.4 573.6 L660.6 566.4 L661.9 568.8 L663.2 566.4 L664.5 580.0 L665.8 584.8 L667.0 579.2 L668.0 583.2 L669.3 572.0 L670.6 562.4 L671.8 556.8 L672.3 553.6 L673.0 544.0 L673.6 537.6 L674.4 532.8 L675.0 521.6 L675.5 512.0 L676.0 524.8 L676.5 518.4 L677.0 531.2 L677.6 539.2 L678.2 529.6 L678.9 523.2 L679.5 534.4 L680.2 528.0 L680.8 523.2 L681.6 516.0 L682.2 521.6 L682.9 528.0 L683.5 525.6 L684.2 534.4 L684.8 542.4 L685.3 555.6 L685.9 540.8 L686.4 539.2 L687.2 537.6 L687.8 540.8 L688.5 547.2 L689.1 550.4 L689.8 549.6 L690.6 554.4 L691.2 555.2 L692.0 552.8 L692.8 547.2 L693.6 540.8 L694.4 534.4 L695.2 524.8 L696.0 523.2 L696.5 522.0 L697.1 525.6 L697.8 529.6 L698.4 528.8 L699.0 536.0 L699.5 547.2 L700.2 544.0 L700.8 542.4 L701.4 540.0 L702.1 535.6 L702.7 544.0 L703.4 542.4 L703.8 545.6 L704.5 543.2 L705.3 544.0 L705.9 550.4 L706.7 555.2 L707.4 553.6 L708.0 552.0 L708.6 544.0 L709.4 539.6 L710.2 540.8 L711.0 543.2 L711.8 544.0 L712.6 546.4 L713.4 542.0 L714.2 542.8 L715.0 544.0 L715.8 544.8 L716.6 544.4 L717.4 545.6 L718.2 547.2 L718.9 550.4 L719.4 556.8 L719.5 552.8 L720.2 568.8 L721.1 577.6 L722.4 573.6 L724.0 574.4 L725.3 580.0 L726.6 569.6 L727.8 572.0 L729.1 574.4 L730.4 573.6 L731.7 578.4 L733.0 576.0 L733.9 588.8 L734.9 564.0 L735.8 555.2 L737.1 559.2 L738.4 556.8 L740.0 556.0 L741.3 560.8 L742.6 564.0 L743.8 566.4 L745.4 570.4 L746.7 575.2 L748.0 581.6 L749.3 598.4 L750.6 588.0 L751.5 584.8 L752.8 589.6 L754.1 591.2 L755.4 588.0 L756.6 590.4 L757.9 592.8 L759.2 595.2 L760.5 604.8 L761.4 592.8 L762.7 593.6 L764.0 588.8 L765.3 592.8 L766.6 591.2 L767.8 593.6 L768.8 597.6 L769.8 588.0 L771.0 578.4 L772.3 576.0 L773.6 574.4 L774.9 567.2 L776.2 564.8 L777.4 566.4 L778.7 570.4 L779.7 572.8 L781.0 562.4 L782.2 557.6 L783.5 556.0 L784.8 558.4 L786.1 552.0 L787.4 547.2 L788.6 543.2 L789.9 544.8 L791.2 548.8 L792.5 546.4 L793.8 552.8 L795.0 560.0 L796.3 565.6 L797.3 569.6 L798.6 564.0 L799.8 560.8 L800.8 575.2 L801.8 580.0 L802.4 648.8 L803.7 629.6 L804.6 642.4 L805.6 620.0 L806.9 615.2 L808.2 604.8 L809.4 602.4 L810.7 621.6 L812.0 607.2 L813.3 600.8 L814.6 597.6 L815.8 591.2 L817.1 594.4 L818.4 600.0 L819.4 604.8 L820.6 595.2 L821.9 600.0 L823.2 588.0 L824.5 584.0 L825.8 578.4 L827.0 565.6 L828.3 563.2 L829.6 557.6 L830.2 548.0 L831.5 559.2 L832.5 567.2 L833.4 552.8 L834.4 557.6 L835.7 551.2 L837.0 559.2 L838.2 565.6 L839.5 560.8 L840.8 552.8 L842.1 554.4 L843.0 545.6 L844.0 551.2 L845.6 550.4 L847.2 552.8 L848.8 556.8 L850.4 556.0 L852.0 552.8 L853.6 555.2 L854.9 559.2 L856.2 561.6 L857.8 560.8 L859.4 557.6 L861.0 556.8 L862.6 558.4 L864.2 560.0 L866.4 559.2 L868.0 552.8 L869.3 544.8 L870.2 533.6 L871.5 532.0 L872.8 525.6 L874.1 530.4 L875.4 525.6 L877.0 524.0 L878.6 524.8 L880.2 520.0 L881.4 524.0 L882.7 526.4 L884.3 529.6 L885.6 527.2 L886.9 524.0 L887.8 532.0 L888.8 544.8 L890.4 545.6 L892.0 544.0 L893.3 540.8 L894.6 534.4 L895.8 535.2 L896.8 539.2 L898.1 543.2 L899.4 538.4 L901.0 537.6 L902.6 539.2 L904.2 539.2 L905.4 535.2 L906.7 532.0 L908.0 528.0 L909.3 529.6 L910.6 526.4 L911.5 519.2 L912.5 512.8 L913.8 510.4 L915.0 507.2 L916.3 506.4 L917.6 501.6 L918.6 495.2 L919.5 487.2 L920.8 488.8 L922.1 482.4 L923.4 479.2 L924.6 472.8 L925.9 466.4 L927.2 461.6 L928.5 457.6 L929.4 462.4 L930.1 471.2 L931.0 460.0 L932.0 454.4 L933.3 458.4 L934.6 456.0 L935.8 460.8 L936.8 464.0 L938.1 457.6 L939.0 448.8 L940.0 436.0 L941.3 429.6 L942.6 426.4 L944.0 411.6 L945.6 400.4 L946.9 389.2 L948.2 381.2 L949.1 368.4 L950.1 358.8 L950.7 352.4 L951.7 362.0 L952.6 374.8 L953.6 358.8 L954.6 368.4 L955.5 366.8 L956.5 374.8 L957.4 382.8 L958.4 387.6 L959.4 381.2 L960.3 378.0 L961.3 376.4 L962.2 371.6 L963.2 363.6 L964.5 357.2 L965.4 344.4 L966.4 333.2 L967.7 330.0 L969.0 328.4 L969.9 320.4 L970.9 310.8 L971.8 304.4 L972.8 317.2 L973.8 325.2 L974.7 330.0 L975.4 336.4 L976.3 326.8 L977.3 323.6 L978.2 325.2 L979.2 318.8 L980.2 310.8 L981.1 301.2 L981.8 295.6 L982.7 302.8 L983.7 301.2 L984.6 302.8 L985.6 309.2 L986.6 312.4 L987.5 318.8 L988.5 310.8 L989.4 304.4 L990.4 301.2 L991.7 301.2 L992.6 304.4 L993.6 299.6 L994.6 302.8 L995.5 299.6 L996.5 291.6 L997.4 290.0 L998.4 293.2 L999.4 299.6 L1000.3 306.0 L1001.3 310.8 L1002.2 318.8 L1002.9 325.2 L1003.8 314.0 L1004.8 309.2 L1005.8 304.4 L1006.7 314.0 L1007.7 304.4 L1008.6 302.8 L1009.6 301.2 L1010.6 306.0 L1011.2 317.2 L1011.8 323.6 L1012.8 330.0 L1013.8 341.2 L1014.4 349.2 L1015.0 365.2 L1015.7 358.8 L1016.3 374.0 L1017.3 357.2 L1018.2 365.2 L1019.2 374.0 L1020.2 365.2 L1021.1 360.4 L1022.1 358.8 L1023.0 370.0 L1024.0 378.0 L1025.0 366.8 L1025.9 365.2 L1026.9 355.6 L1027.8 353.2 L1028.8 360.4 L1029.8 368.4 L1030.7 374.8 L1031.4 386.8 L1032.3 376.4 L1033.3 386.8 L1034.2 371.6 L1035.2 370.0 L1036.2 376.4 L1037.1 373.2 L1038.1 378.0 L1039.0 376.4 L1040.0 378.0 L1041.0 379.6 L1041.9 382.8 L1042.9 386.0 L1043.8 387.6 L1044.8 394.8 L1045.8 386.0 L1046.7 376.4 L1047.7 365.2 L1048.6 355.6 L1049.6 350.8 L1050.6 347.6 L1051.5 360.4 L1052.5 354.0 L1053.4 344.4 L1054.4 339.6 L1055.4 334.8 L1056.3 338.0 L1057.3 330.0 L1058.2 333.2 L1059.2 338.0 L1060.2 328.4 L1061.1 325.2 L1062.1 326.8 L1063.0 330.0 L1064.0 326.8 L1065.0 331.6 L1065.9 326.8 L1066.9 325.2 L1067.8 320.4 L1068.5 316.4 L1069.1 325.2 L1070.1 333.2 L1071.0 338.0 L1072.0 336.4 L1073.0 330.0 L1073.9 328.4 L1074.9 333.2 L1075.8 350.8 L1076.8 339.6 L1077.8 346.0 L1078.7 344.4 L1079.4 350.8 L1080.3 330.0 L1081.3 326.8 L1082.2 320.4 L1083.2 310.8 L1084.5 309.2 L1085.4 306.0 L1086.4 302.8 L1087.4 296.4 L1088.3 293.2 L1089.3 288.4 L1089.9 284.4 L1090.9 294.8 L1091.8 292.4 L1092.8 296.4 L1093.8 301.2 L1094.7 293.2 L1095.7 294.8 L1096.6 292.4 L1097.6 294.8 L1098.6 288.4 L1099.5 281.2 L1100.5 287.6 L1101.4 286.0 L1102.4 288.4 L1103.4 296.4 L1104.3 304.4 L1105.3 298.0 L1106.2 306.0 L1107.2 301.2 L1108.2 312.4 L1109.1 302.8 L1110.1 304.4 L1111.0 306.0 L1112.0 320.4 L1113.0 325.2 L1113.9 322.0 L1114.9 330.0 L1115.8 323.6 L1116.8 331.6 L1117.8 333.2 L1118.7 334.0 L1119.7 330.0 L1120.6 326.8 L1121.6 322.0 L1122.6 320.4 L1123.5 325.2 L1124.5 333.2 L1125.4 330.0 L1126.4 331.6 L1127.4 336.4 L1128.3 346.0 L1129.3 348.4 L1130.2 344.4 L1131.2 342.0 L1132.2 342.8 L1133.1 344.4 L1134.1 347.6 L1135.0 362.0 L1136.0 372.4 L1137.0 365.2 L1137.9 363.6 L1138.9 362.0 L1139.8 360.4 L1140.8 358.8 L1141.8 362.0 L1142.4 350.8 L1143.4 344.4 L1144.3 341.2 L1145.3 339.6 L1146.2 346.0 L1147.2 339.6 L1148.2 352.4 L1149.1 354.0 L1150.1 358.8 L1151.0 365.2 L1152.0 360.4 L1153.0 362.0 L1153.9 349.2 L1154.9 339.6 L1155.8 349.2 L1156.8 358.8 L1157.8 349.2 L1158.7 360.4 L1159.7 352.4 L1160.6 362.0 L1161.6 354.0 L1162.6 349.2 L1163.5 347.6 L1164.5 350.8 L1165.4 342.8 L1166.4 338.0 L1167.4 333.2 L1168.3 330.8 L1169.3 333.2 L1170.2 334.8 L1171.2 333.2 L1172.2 341.2 L1173.1 344.4 L1174.1 347.6 L1175.0 355.6 L1176.0 352.4 L1177.0 354.0 L1177.9 350.8 L1178.9 349.2 L1179.8 354.0 L1180.8 352.4 L1181.8 358.8 L1182.7 355.6 L1183.7 362.0 L1184.6 357.2 L1185.6 355.6 L1186.2 365.2 L1187.2 371.6 L1188.2 379.6 L1188.8 394.0 L1189.8 399.6 L1190.7 389.2 L1191.7 398.8 L1192.6 392.4 L1193.6 394.0 L1194.6 400.4 L1195.5 394.0 L1196.5 397.2 L1197.4 401.2 L1198.4 394.0 L1199.4 386.0 L1200.3 394.0 L1201.3 390.8 L1202.2 388.4 L1203.2 392.4 L1204.2 397.2 L1204.8 403.6 L1205.4 419.6 L1205.9 432.4 L1206.9 438.8 L1207.5 449.2 L1208.2 458.8 L1209.1 448.4 L1210.1 444.4 L1211.0 442.0 L1212.0 446.8 L1213.3 451.6 L1214.6 456.4 L1215.8 448.4 L1217.1 442.0 L1218.1 440.4 L1219.0 448.4 L1220.0 454.8 L1221.0 446.8 L1221.9 443.6 L1222.9 432.4 L1223.8 429.2 L1224.8 433.2 L1225.8 435.6 L1226.7 442.0 L1227.7 427.6 L1228.6 426.0 L1229.6 429.2 L1230.6 432.4 L1231.5 430.8 L1232.8 427.6 L1234.1 426.0 L1235.4 422.8 L1236.6 425.2 L1237.6 429.2 L1238.6 438.8 L1239.2 445.2 L1240.2 440.4 L1241.1 442.0 L1242.1 448.4 L1243.0 451.6 L1244.0 449.2 L1245.3 450.8 L1246.2 454.8 L1247.2 459.6 L1248.2 453.2 L1249.1 442.0 L1250.1 435.6 L1251.0 449.2 L1252.0 451.6 L1253.0 456.4 L1253.9 458.0 L1254.6 462.0 L1255.5 458.0 L1256.8 456.4 L1258.1 453.2 L1259.4 455.6 L1260.6 449.2 L1261.9 454.0 L1263.2 455.6 L1264.5 457.2 L1265.8 454.8 L1267.0 457.2 L1268.3 454.8 L1269.6 455.6 L1270.6 453.2 L1271.5 448.4 L1272.5 445.2 L1273.8 446.0 L1275.0 449.2 L1276.3 442.0 L1277.3 445.2 L1277.9 458.0 L1278.6 483.6 L1279.5 469.2 L1280.5 477.2 L1281.4 474.0 L1282.4 475.6 L1283.7 477.2 L1284.6 483.6 L1285.6 478.8 L1286.6 477.2 L1287.5 480.4 L1288.5 472.4 L1289.8 474.0 L1291.0 472.4 L1292.3 473.2 L1293.6 470.8 L1294.6 472.4 L1295.5 467.6 L1296.5 475.6 L1297.8 477.2 L1299.0 475.6 L1300.3 476.4 L1301.6 474.8 L1302.9 477.2 L1304.2 477.2 L1305.4 475.6 L1306.7 474.0 L1308.0 472.4 L1309.0 467.6 L1309.9 456.4 L1310.9 445.2 L1311.8 443.6 L1312.8 445.2 L1313.8 434.0 L1315.0 432.4 L1316.3 430.8 L1317.6 429.2 L1318.6 427.3 L1319.8 428.4 L1320.8 430.8 L1322.1 430.0 L1323.0 435.6 L1324.0 439.6 L1325.3 438.8 L1326.2 426.0 L1327.2 423.6 L1328.2 422.0 L1329.1 421.2 L1330.1 424.4 L1331.0 430.0 L1332.0 427.6 L1333.0 429.2 L1333.9 430.8 L1334.9 434.0 L1335.8 436.4 L1336.8 442.0 L1337.8 450.0 L1338.7 432.4 L1339.7 422.8 L1340.6 410.0 L1341.6 406.8 L1342.6 404.4 L1343.5 406.8 L1344.5 403.6 L1345.4 405.2 L1346.4 407.6 L1347.4 402.0 L1348.3 404.4 L1349.3 402.8 L1350.2 403.6 L1351.5 403.6 L1352.5 397.2 L1353.4 393.2 L1354.4 392.7 L1355.7 392.4 L1357.0 393.2 L1357.9 405.2 L1358.9 407.6 L1360.2 405.2 L1361.1 400.4 L1362.1 397.2 L1363.0 402.0 L1364.0 398.8 L1365.0 397.2 L1365.9 402.0 L1366.9 405.2 L1368.2 408.4 L1369.4 410.0 L1370.7 408.4 L1372.0 410.0 L1373.3 408.4 L1374.2 411.6 L1375.2 406.8 L1376.2 404.4 L1377.1 406.8 L1378.1 410.0 L1379.0 408.4 L1380.0 411.6 L1381.0 414.8 L1381.9 410.0 L1382.9 413.2 L1383.8 414.8 L1384.8 418.8 L1385.8 413.2 L1386.7 410.0 L1387.7 397.2 L1388.6 392.4 L1389.6 390.8 L1390.9 390.0 L1392.2 390.8 L1393.4 387.6 L1394.4 390.8 L1395.4 393.2 L1396.3 394.0 L1397.3 398.8 L1398.2 394.8 L1399.5 394.0 L1400.8 395.6 L1402.1 394.0 L1403.4 394.8 L1404.6 397.2 L1405.9 398.0 L1407.2 396.4 L1408.5 398.0 L1409.8 398.0 L1411.0 396.4 L1412.3 395.6 L1413.6 397.2 L1414.9 398.0 L1415.8 406.8 L1416.5 413.2 L1417.8 414.0 L1419.0 413.2 L1420.3 414.0 L1421.6 406.0 L1422.6 413.2 L1423.8 414.8 L1425.1 414.0 L1426.4 415.6 L1427.7 413.2 L1428.3 418.8 L1429.3 413.2 L1430.6 411.6 L1431.5 410.0 L1432.5 408.4 L1433.4 410.0 L1434.7 412.4 L1436.0 411.6 L1437.3 406.8 L1438.2 404.4 L1439.5 406.8 L1440.8 404.4 L1442.1 408.4 L1443.4 410.0 L1444.6 406.8 L1445.6 402.0 L1446.6 397.2 L1447.5 390.8 L1448.5 379.6 L1449.4 375.6 L1450.7 376.4 L1452.0 374.0 L1453.3 372.4 L1454.6 373.2 L1455.8 371.6 L1457.1 366.8 L1458.1 364.4 L1459.0 370.8 L1460.0 362.8 L1461.0 368.4 L1461.9 365.2 L1462.9 369.2 L1463.8 363.6 L1465.1 364.4 L1466.4 362.8 L1467.7 361.2 L1468.6 354.0 L1469.6 343.6 L1469.8 341.2 L1471.0 340.4 L1472.0 342.8 L1473.3 349.2 L1474.6 344.4 L1475.8 346.0 L1477.1 342.0 L1478.4 342.8 L1479.7 344.4 L1481.0 346.0 L1482.2 342.8 L1483.5 338.0 L1484.5 341.2 L1485.4 339.6 L1486.4 332.4 L1487.7 333.2 L1488.6 343.6 L1489.9 345.2 L1491.2 347.6 L1492.5 350.0 L1495.0 348.4 L1496.3 344.4 L1497.6 343.6 L1498.9 345.2 L1500.2 344.4 L1501.4 336.4 L1502.7 327.6 L1504.0 320.4 L1505.3 317.2 L1506.6 317.2 L1507.8 317.2 L1509.1 320.4 L1510.1 310.8 L1511.0 298.0 L1512.0 292.4 L1513.0 291.6 L1513.6 280.4 L1514.6 278.8 L1515.2 285.2 L1516.2 278.8 L1517.1 274.0 L1518.4 270.8 L1519.4 278.8 L1520.3 285.2 L1521.3 292.4 L1522.2 282.0 L1523.2 288.4 L1524.2 278.8 L1525.4 275.6 L1526.7 274.0 L1527.7 275.6 L1528.6 285.2 L1529.6 278.8 L1530.9 273.2 L1532.2 275.6 L1533.1 282.0 L1534.4 288.4 L1535.4 294.0 L1536.3 286.8 L1537.6 283.6 L1538.6 286.8 L1539.8 289.2 L1541.1 290.0 L1542.4 301.2 L1543.7 290.0 L1544.6 289.2 L1545.6 294.8 L1546.9 295.6 L1548.2 293.2 L1549.1 285.2 L1550.4 282.0 L1551.7 274.0 L1552.6 280.4 L1553.9 278.8 L1555.2 280.4 L1556.5 280.4 L1557.8 280.4 L1559.0 274.8 L1560.3 275.6 L1561.6 277.2 L1562.9 280.4 L1564.2 283.6 L1565.4 284.4 L1566.7 287.6 L1568.0 290.0 L1569.3 297.2 L1570.6 294.8 L1571.8 291.6 L1573.1 298.0 L1574.4 306.0 L1575.4 307.6 L1576.6 302.8 L1577.6 298.0 L1578.9 288.4 L1580.2 286.8 L1581.4 280.4 L1582.7 280.4 L1583.7 285.2 L1585.0 280.4 L1586.2 285.2 L1587.5 291.6 L1588.5 304.4 L1589.4 311.6 L1590.4 294.8 L1591.7 298.0 L1593.0 296.4 L1593.9 302.8 L1595.2 301.2 L1596.5 299.6 L1597.8 290.0 L1598.7 288.4 L1599.7 294.8 L1600.6 299.6 L1601.9 299.6 L1603.2 302.8 L1604.2 306.0 L1605.1 312.4 L1606.4 306.0 L1607.4 301.2 L1608.3 298.0 L1609.3 301.2 L1610.2 294.8 L1611.5 290.0 L1612.8 288.4 L1614.1 289.2 L1615.0 285.2 L1616.0 284.4 L1617.0 290.0 L1617.9 296.4 L1619.2 293.2 L1620.5 294.0 L1621.4 297.2 L1622.7 288.4 L1624.0 282.0 L1625.3 280.4 L1626.6 278.8 L1627.8 282.0 L1629.1 282.8 L1630.1 275.6 L1631.0 270.8 L1632.0 277.2 L1633.0 278.8 L1633.9 280.4 L1634.9 266.0 L1636.2 262.8 L1636.8 253.2 L1637.8 242.0 L1638.7 245.2 L1639.7 240.4 L1640.6 238.8 L1641.6 231.6 L1642.6 228.4 L1643.5 234.0 L1644.5 238.8 L1645.4 230.8 L1646.7 231.6 L1648.0 230.0 L1649.3 227.6 L1650.2 226.0 L1651.2 230.8 L1652.2 225.2 L1653.1 224.4 L1654.1 218.8 L1654.7 218.0 L1655.7 229.2 L1657.0 230.8 L1658.2 234.0 L1659.2 228.4 L1660.5 235.6 L1661.8 237.2 L1662.7 230.8 L1663.7 226.0 L1664.6 223.6 L1665.6 230.8 L1666.2 237.2 L1667.2 234.0 L1668.5 234.0 L1669.4 226.0 L1670.4 221.2 L1672.0 218.8 L1673.3 220.4 L1674.6 221.2 L1675.8 219.6 L1676.8 226.0 L1677.8 224.4 L1678.7 230.0 L1680.0 231.6 L1681.6 231.6 L1682.9 230.0 L1684.2 231.6 L1685.4 232.4 L1686.7 229.2 L1687.7 230.8 L1688.6 240.4 L1689.6 250.0 L1690.9 249.2 L1691.5 234.8 L1692.5 246.8 L1693.4 240.4 L1694.4 253.2 L1695.4 260.4 L1696.3 253.2 L1697.6 252.4 L1698.9 250.8 L1700.2 250.0 L1701.4 246.0 L1702.7 245.2 L1704.0 246.8 L1705.3 252.4 L1706.6 250.0 L1707.8 253.2 L1708.8 259.6 L1710.0 264.4 L1710.7 256.0 L1711.4 249.4 L1712.4 251.2 L1713.6 250.0 L1714.8 249.4 L1715.8 244.0 L1716.5 236.2 L1717.4 234.4 L1718.6 233.8 L1719.8 234.4 L1720.8 233.2 L1721.5 230.8 L1722.2 234.4 L1723.2 232.0 L1723.9 224.8 L1724.9 220.0 L1725.8 221.8 L1726.8 220.6 L1727.8 221.8 L1728.7 221.2 L1729.4 218.8 L1730.4 216.4 L1731.1 211.0 L1731.8 215.8 L1732.6 213.4 L1733.5 215.2 L1734.5 218.8 L1735.2 221.2 L1736.2 218.8 L1737.1 220.0 L1737.8 224.2 L1738.8 219.4 L1739.5 214.0 L1740.2 212.8 L1741.0 216.4 L1741.9 218.8 L1742.9 217.0 L1743.8 219.4 L1744.8 220.0 L1745.8 224.8 L1746.5 225.4 L1747.2 218.8 L1748.2 216.4 L1749.1 217.0 L1750.1 215.2 L1750.8 218.8 L1751.8 214.0 L1752.7 215.2 L1753.7 214.6 L1754.4 211.6 L1755.1 205.6 L1755.8 202.6 L1756.8 201.4 L1757.8 202.6 L1758.7 202.0 L1759.7 203.2 L1760.6 201.4 L1761.6 203.2 L1762.6 201.4 L1763.5 202.6 L1764.5 203.2 L1765.2 205.6 L1766.2 209.2 L1767.1 209.8 L1768.1 206.8 L1769.0 205.0 L1770.0 203.2 L1771.0 201.4 L1771.7 196.6 L1772.4 202.0 L1773.4 203.2 L1774.3 205.6 L1775.0 209.2 L1775.8 204.4 L1776.7 209.2 L1777.4 206.8 L1778.2 212.8 L1779.1 210.4 L1779.8 215.2 L1780.6 215.8 L1781.5 212.8 L1782.2 211.0 L1783.2 212.2 L1784.2 211.6 L1785.1 209.2 L1785.8 205.6 L1786.8 206.2 L1787.8 205.0 L1788.7 204.4 L1789.7 205.6 L1790.6 206.2 L1791.6 208.0 L1792.6 214.0 L1793.3 214.6 L1794.0 211.6 L1795.0 205.6 L1795.7 200.8 L1796.6 197.2 L1797.6 196.0 L1798.3 195.4 L1799.0 198.4 L1799.8 199.6 L1800.5 211.6 L1801.2 206.2 L1801.9 208.0 L1802.6 211.6 L1803.6 217.6 L1804.3 212.8 L1805.0 215.8 L1806.0 212.2 L1806.7 212.8 L1807.4 209.2 L1808.4 207.4 L1809.4 211.6 L1810.1 215.2 L1811.0 212.2 L1811.8 216.4 L1812.5 224.8 L1813.4 223.6 L1814.4 221.2 L1815.4 218.2 L1816.1 223.6 L1816.8 228.4 L1817.5 233.2 L1818.2 234.4 L1819.0 238.0 L1819.7 240.4 L1820.4 245.2 L1821.1 250.0 L1821.8 244.0 L1822.8 239.2 L1823.8 239.2 L1824.7 239.8 L1825.4 246.4 L1826.2 236.8 L1826.9 235.6 L1827.6 241.6 L1828.6 239.2 L1829.5 236.8 L1830.2 239.2 L1831.2 241.6 L1832.2 244.0 L1833.1 246.4 L1834.1 248.8 L1834.8 244.0 L1835.8 242.8 L1836.7 244.0 L1837.7 245.2 L1838.6 245.8 L1839.6 244.6 L1840.6 244.0 L1841.5 240.4 L1842.5 238.0 L1843.2 235.6 L1843.9 239.2 L1844.9 239.8 L1845.8 238.0 L1846.8 233.2 L1847.5 230.8 L1848.5 233.2 L1849.4 236.8 L1850.2 242.8 L1851.1 241.6 L1852.1 244.0 L1852.8 242.8 L1853.8 242.2 L1854.5 247.6 L1855.2 253.6 L1855.9 260.8 L1856.6 259.6 L1857.4 268.0 L1857.8 292.0 L1858.6 275.2 L1859.5 276.4 L1860.5 278.8 L1861.2 283.6 L1862.2 277.0 L1863.1 278.8 L1864.1 280.0 L1865.0 280.6 L1866.0 280.0" fill="none" stroke="#141414" stroke-width="1.45" stroke-linejoin="round" stroke-linecap="round"/>
<line x1="118.6" x2="1868.5" y1="1025.2" y2="1025.2" stroke="#d6d6e2" stroke-width="1.5"/>
<g stroke="#d6d6e2" stroke-width="1.3">
<line x1="232.0" x2="232.0" y1="1025.2" y2="1037.2"/>
<line x1="410.7" x2="410.7" y1="1025.2" y2="1037.2"/>
<line x1="589.5" x2="589.5" y1="1025.2" y2="1037.2"/>
<line x1="768.2" x2="768.2" y1="1025.2" y2="1037.2"/>
<line x1="946.9" x2="946.9" y1="1025.2" y2="1037.2"/>
<line x1="1125.7" x2="1125.7" y1="1025.2" y2="1037.2"/>
<line x1="1304.4" x2="1304.4" y1="1025.2" y2="1037.2"/>
<line x1="1483.1" x2="1483.1" y1="1025.2" y2="1037.2"/>
<line x1="1661.8" x2="1661.8" y1="1025.2" y2="1037.2"/>
<line x1="1840.6" x2="1840.6" y1="1025.2" y2="1037.2"/>
</g>
<text x="209.80" y="1062.80" font-size="21.2" fill="#60606f" textLength="44.49" lengthAdjust="spacingAndGlyphs">2017</text>
<text x="388.06" y="1062.80" font-size="21.2" fill="#60606f" textLength="45.22" lengthAdjust="spacingAndGlyphs">2018</text>
<text x="566.74" y="1062.80" font-size="21.2" fill="#60606f" textLength="45.33" lengthAdjust="spacingAndGlyphs">2019</text>
<text x="743.95" y="1062.80" font-size="21.2" fill="#60606f" textLength="48.36" lengthAdjust="spacingAndGlyphs">2020</text>
<text x="924.41" y="1062.80" font-size="21.2" fill="#60606f" textLength="45.12" lengthAdjust="spacingAndGlyphs">2021</text>
<text x="1101.67" y="1062.80" font-size="21.2" fill="#60606f" textLength="48.06" lengthAdjust="spacingAndGlyphs">2022</text>
<text x="1280.25" y="1062.80" font-size="21.2" fill="#60606f" textLength="48.15" lengthAdjust="spacingAndGlyphs">2023</text>
<text x="1458.72" y="1062.80" font-size="21.2" fill="#60606f" textLength="48.44" lengthAdjust="spacingAndGlyphs">2024</text>
<text x="1637.76" y="1062.80" font-size="21.2" fill="#60606f" textLength="48.04" lengthAdjust="spacingAndGlyphs">2025</text>
<text x="1816.39" y="1062.80" font-size="21.2" fill="#60606f" textLength="48.25" lengthAdjust="spacingAndGlyphs">2026</text>
<rect x="117.25" y="157" width="2.7" height="868.2" fill="#f23a30"/>
<rect x="1866.2" y="157" width="2.6" height="869.0" fill="#131316"/>
<text x="53.02" y="221.70" font-size="26.0" fill="#111114" textLength="45.47" lengthAdjust="spacingAndGlyphs" stroke="#111114" stroke-width="0.35">0.15</text>
<text x="68.54" y="316.50" font-size="26.0" fill="#111114" textLength="29.94" lengthAdjust="spacingAndGlyphs" stroke="#111114" stroke-width="0.35">0.1</text>
<text x="49.80" y="411.30" font-size="26.0" fill="#111114" textLength="48.76" lengthAdjust="spacingAndGlyphs" stroke="#111114" stroke-width="0.35">0.05</text>
<text x="39.06" y="600.90" font-size="26.0" fill="#111114" textLength="59.37" lengthAdjust="spacingAndGlyphs" stroke="#111114" stroke-width="0.35">-0.05</text>
<text x="57.44" y="695.70" font-size="26.0" fill="#111114" textLength="41.23" lengthAdjust="spacingAndGlyphs" stroke="#111114" stroke-width="0.35">-0.1</text>
<text x="41.91" y="790.50" font-size="26.0" fill="#111114" textLength="56.47" lengthAdjust="spacingAndGlyphs" stroke="#111114" stroke-width="0.35">-0.15</text>
<text x="53.04" y="885.30" font-size="26.0" fill="#111114" textLength="45.78" lengthAdjust="spacingAndGlyphs" stroke="#111114" stroke-width="0.35">-0.2</text>
<text x="37.94" y="980.10" font-size="26.0" fill="#111114" textLength="60.51" lengthAdjust="spacingAndGlyphs" stroke="#111114" stroke-width="0.35">-0.25</text>
<text x="1887.46" y="234.20" font-size="26.0" fill="#111114" textLength="69.52" lengthAdjust="spacingAndGlyphs" stroke="#111114" stroke-width="0.35">$100K</text>
<text x="1887.45" y="265.35" font-size="26.0" fill="#111114" textLength="59.25" lengthAdjust="spacingAndGlyphs" stroke="#111114" stroke-width="0.35">$80K</text>
<text x="1887.45" y="305.50" font-size="26.0" fill="#111114" textLength="59.25" lengthAdjust="spacingAndGlyphs" stroke="#111114" stroke-width="0.35">$60K</text>
<text x="1887.45" y="362.10" font-size="26.0" fill="#111114" textLength="59.25" lengthAdjust="spacingAndGlyphs" stroke="#111114" stroke-width="0.35">$40K</text>
<text x="1887.45" y="458.85" font-size="26.0" fill="#111114" textLength="58.74" lengthAdjust="spacingAndGlyphs" stroke="#111114" stroke-width="0.35">$20K</text>
<text x="1887.47" y="555.60" font-size="26.0" fill="#111114" textLength="54.70" lengthAdjust="spacingAndGlyphs" stroke="#111114" stroke-width="0.35">$10K</text>
<text x="1887.45" y="586.75" font-size="26.0" fill="#111114" textLength="44.64" lengthAdjust="spacingAndGlyphs" stroke="#111114" stroke-width="0.35">$8K</text>
<text x="1887.45" y="626.90" font-size="26.0" fill="#111114" textLength="44.64" lengthAdjust="spacingAndGlyphs" stroke="#111114" stroke-width="0.35">$6K</text>
<text x="1887.45" y="683.50" font-size="26.0" fill="#111114" textLength="44.64" lengthAdjust="spacingAndGlyphs" stroke="#111114" stroke-width="0.35">$4K</text>
<text x="1887.45" y="780.25" font-size="26.0" fill="#111114" textLength="43.62" lengthAdjust="spacingAndGlyphs" stroke="#111114" stroke-width="0.35">$2K</text>
<text x="1887.47" y="877.00" font-size="26.0" fill="#111114" textLength="40.06" lengthAdjust="spacingAndGlyphs" stroke="#111114" stroke-width="0.35">$1K</text>
<text x="1887.43" y="908.15" font-size="26.0" fill="#111114" textLength="59.77" lengthAdjust="spacingAndGlyphs" stroke="#111114" stroke-width="0.35">$800</text>
<text x="1887.43" y="948.30" font-size="26.0" fill="#111114" textLength="59.77" lengthAdjust="spacingAndGlyphs" stroke="#111114" stroke-width="0.35">$600</text>
<text x="1887.43" y="1004.90" font-size="26.0" fill="#111114" textLength="59.77" lengthAdjust="spacingAndGlyphs" stroke="#111114" stroke-width="0.35">$400</text>
<rect x="80" y="476.3" width="39.9" height="42.9" fill="#f23a30"/>
<text x="86.43" y="507.80" font-size="26.0" fill="#ffffff" textLength="25.28" lengthAdjust="spacingAndGlyphs" stroke="#ffffff" stroke-width="0.35">0*</text>
<rect x="1866.2" y="258.9" width="96.7" height="42.6" fill="#131316"/>
<text x="1874.85" y="289.60" font-size="26.0" fill="#ffffff" textLength="80.35" lengthAdjust="spacingAndGlyphs" stroke="#ffffff" stroke-width="0.35">$66.4K</text>
<text x="642.22" y="71.00" font-size="39.0" font-weight="bold" fill="#111114" textLength="712.96" lengthAdjust="spacingAndGlyphs" stroke="#111114" stroke-width="0.6">Bitcoin: Funding Rates - All Exchanges</text>
<line x1="823.9" x2="848.7" y1="115.2" y2="115.2" stroke="#2a2a2e" stroke-width="1.6"/>
<text x="854.69" y="121.00" font-size="24.4" fill="#111114" textLength="111.65" lengthAdjust="spacingAndGlyphs" stroke="#111114" stroke-width="0.35">Price USD</text>
<circle cx="1005.4" cy="110.0" r="12.2" fill="#13985f" stroke="#0c9155" stroke-width="0.7"/>
<text x="1023.37" y="121.00" font-size="24.4" fill="#111114" textLength="157.25" lengthAdjust="spacingAndGlyphs" stroke="#111114" stroke-width="0.35">Funding Rates</text>
<text x="1700.37" y="1096.50" font-size="17.2" fill="#6c6c7a" textLength="250.95" lengthAdjust="spacingAndGlyphs">© CryptoQuant. All rights reserved</text>
</svg>
</body></html>
